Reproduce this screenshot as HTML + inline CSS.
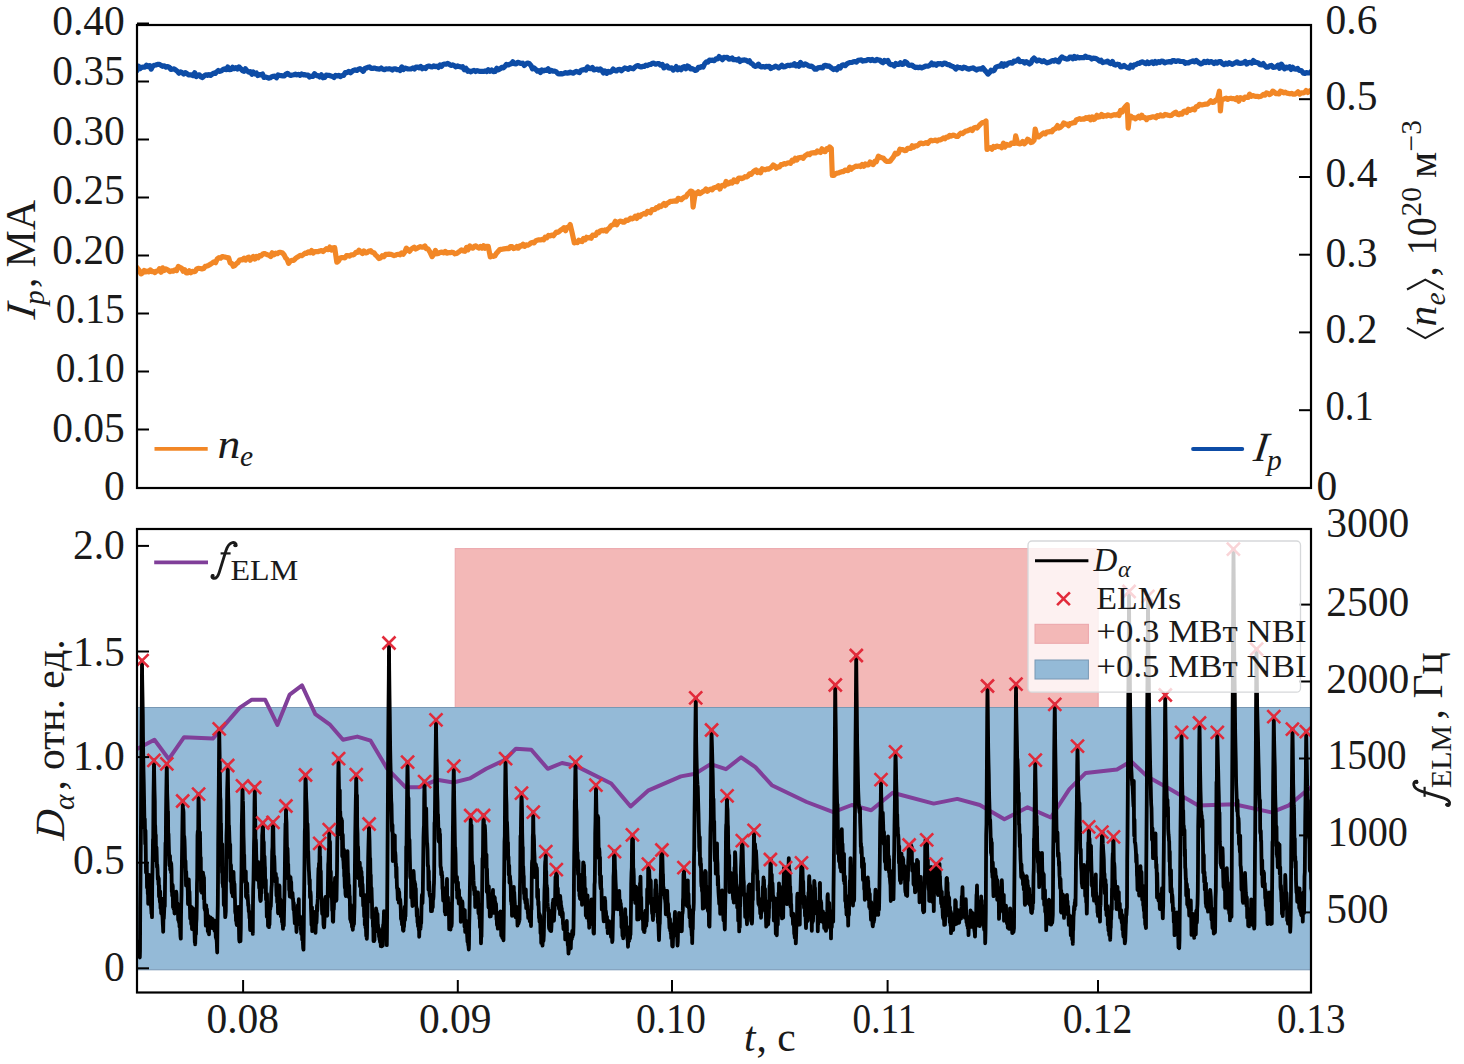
<!DOCTYPE html><html><head><meta charset="utf-8"><style>html,body{margin:0;padding:0;background:#fff;}svg{display:block;}</style></head><body><svg width="1464" height="1064" viewBox="0 0 1464 1064" font-family='"Liberation Serif", serif'>
<rect width="1464" height="1064" fill="#fff"/>
<defs><clipPath id="c1"><rect x="137" y="25" width="1174" height="463"/></clipPath><clipPath id="c2"><rect x="137" y="529" width="1174" height="463.5"/></clipPath></defs>
<g clip-path="url(#c1)">
<path d="M137.0 70.5 L138.6 66.1 L140.2 68.5 L141.7 67.3 L143.3 67.1 L144.9 67.1 L146.5 65.2 L148.0 66.5 L149.6 65.6 L151.2 69.1 L152.8 66.1 L154.3 65.3 L155.9 65.0 L157.5 64.4 L159.2 64.3 L160.9 65.2 L162.6 66.3 L164.3 65.9 L166.0 67.2 L167.7 66.5 L169.3 67.3 L170.9 69.4 L172.5 69.2 L174.1 68.9 L175.7 69.9 L177.3 71.2 L178.9 73.2 L180.5 71.9 L182.1 72.6 L183.7 74.0 L185.2 72.6 L186.8 73.5 L188.4 74.8 L190.0 74.9 L191.5 74.8 L193.1 75.6 L194.7 72.8 L196.3 76.5 L197.8 75.1 L199.4 74.8 L201.0 76.8 L202.6 77.5 L204.2 75.9 L205.7 74.8 L207.3 75.3 L208.9 74.6 L210.5 75.4 L212.0 74.2 L213.6 73.2 L215.2 73.5 L216.8 71.7 L218.3 70.5 L219.9 71.3 L221.5 70.8 L223.1 69.5 L224.7 68.8 L226.3 69.6 L227.8 67.0 L229.4 69.7 L231.0 69.4 L232.6 67.3 L234.2 68.7 L235.8 67.6 L237.4 69.0 L239.0 66.9 L240.6 68.5 L242.2 70.4 L243.8 71.3 L245.4 68.8 L247.0 70.8 L248.6 72.1 L250.2 71.7 L251.8 74.2 L253.3 72.1 L254.8 73.9 L256.4 73.0 L257.9 75.6 L259.4 74.7 L261.0 74.8 L262.5 74.0 L264.0 77.4 L265.6 77.0 L267.1 77.4 L268.7 78.1 L270.2 77.8 L271.8 76.7 L273.3 76.3 L274.9 76.1 L276.5 77.8 L278.1 75.0 L279.7 75.5 L281.2 75.6 L282.8 75.8 L284.4 75.9 L286.0 74.0 L287.5 73.3 L289.1 74.7 L290.7 75.5 L292.3 75.1 L293.8 74.7 L295.4 74.2 L297.0 74.8 L298.6 74.4 L300.1 75.4 L301.7 73.9 L303.3 74.8 L304.9 74.6 L306.5 75.2 L308.0 75.0 L309.6 77.1 L311.2 76.2 L312.9 76.5 L314.6 73.7 L316.3 75.6 L318.0 75.7 L319.7 77.0 L321.4 74.8 L323.0 77.8 L324.6 77.5 L326.2 75.2 L327.7 75.4 L329.3 75.4 L330.9 76.0 L332.5 76.4 L334.0 77.5 L335.6 75.3 L337.2 76.0 L338.8 75.3 L340.3 76.6 L341.9 75.5 L343.6 75.4 L345.3 72.5 L347.0 72.6 L348.7 71.4 L350.5 72.8 L352.2 71.3 L353.7 70.2 L355.3 69.9 L356.9 70.5 L358.5 69.2 L360.0 68.7 L361.6 69.8 L363.2 71.3 L364.8 68.6 L366.4 68.1 L367.9 67.3 L369.5 66.9 L371.1 68.4 L372.7 68.4 L374.4 68.0 L376.1 68.6 L377.8 68.8 L379.5 69.2 L381.2 68.0 L382.9 69.3 L384.5 69.7 L386.1 68.9 L387.6 69.0 L389.2 68.7 L390.8 69.0 L392.4 70.0 L393.9 68.8 L395.5 68.9 L397.1 69.7 L398.7 69.5 L400.2 70.4 L401.8 66.9 L403.4 69.5 L405.0 68.1 L406.5 68.5 L408.1 69.0 L409.7 69.0 L411.3 68.8 L412.9 67.9 L414.4 69.0 L416.0 67.2 L417.6 67.1 L419.2 67.8 L420.7 66.5 L422.3 68.7 L423.9 67.6 L425.5 68.5 L427.2 66.5 L428.8 66.1 L430.4 66.6 L432.1 67.0 L433.7 65.8 L435.4 66.6 L437.0 66.2 L438.5 67.4 L440.1 65.1 L441.6 66.4 L443.1 64.6 L444.7 64.1 L446.2 64.1 L447.8 63.4 L449.3 64.3 L450.9 65.4 L452.6 64.9 L454.2 65.6 L455.9 66.8 L457.5 65.9 L459.2 66.6 L460.9 67.1 L462.6 66.7 L464.3 69.7 L466.0 68.3 L467.7 71.3 L469.3 70.8 L470.9 71.9 L472.5 70.9 L474.0 70.3 L475.6 71.5 L477.2 70.7 L478.8 71.1 L480.3 71.4 L481.9 71.3 L483.5 71.4 L485.1 70.9 L486.7 71.5 L488.2 69.8 L489.9 71.3 L491.6 70.0 L493.4 71.7 L495.1 71.5 L496.8 68.3 L498.5 69.8 L500.1 68.8 L501.7 67.3 L503.3 67.9 L504.9 66.3 L506.4 64.4 L508.0 65.0 L509.6 64.3 L511.2 63.8 L512.8 61.8 L514.5 63.6 L516.1 63.9 L517.7 62.3 L519.4 62.8 L521.0 63.5 L522.7 63.2 L524.3 65.4 L525.9 64.1 L527.6 63.1 L529.2 63.5 L530.9 65.4 L532.5 68.9 L534.1 68.0 L535.8 69.5 L537.4 71.2 L538.9 70.6 L540.5 72.5 L542.0 69.9 L543.6 70.9 L545.1 70.2 L546.6 70.5 L548.2 68.8 L549.7 71.3 L551.3 70.3 L553.0 71.1 L554.6 71.0 L556.3 71.8 L557.9 73.7 L559.4 74.0 L561.0 73.6 L562.5 73.9 L564.0 73.4 L565.6 72.6 L567.1 73.2 L568.7 72.9 L570.2 72.1 L571.7 72.8 L573.3 73.2 L574.8 72.1 L576.3 71.4 L577.9 72.0 L579.5 72.6 L581.1 70.2 L582.7 69.9 L584.3 69.4 L585.9 70.1 L587.5 66.9 L589.1 68.4 L590.7 68.7 L592.3 67.4 L593.9 69.9 L595.5 69.5 L597.1 69.0 L598.7 70.1 L600.3 69.0 L601.8 70.3 L603.4 73.0 L605.0 71.0 L606.7 73.3 L608.3 71.4 L610.0 72.2 L611.6 71.2 L613.2 69.0 L614.9 70.4 L616.5 70.9 L618.1 69.6 L619.8 69.3 L621.4 70.7 L623.1 69.3 L624.8 67.9 L626.5 68.4 L628.3 69.3 L630.0 67.7 L631.7 68.5 L633.2 68.8 L634.8 67.2 L636.4 65.9 L638.0 65.5 L639.6 66.5 L641.1 67.0 L642.7 66.3 L644.3 66.3 L645.9 65.1 L647.4 65.6 L649.0 64.6 L650.6 64.5 L652.2 63.4 L653.9 63.2 L655.6 64.2 L657.3 63.6 L659.0 63.7 L660.7 65.2 L662.4 64.5 L663.9 67.9 L665.5 66.7 L667.0 65.9 L668.6 67.9 L670.1 68.1 L671.6 67.8 L673.2 70.1 L674.7 69.0 L676.3 66.6 L677.9 69.7 L679.5 68.1 L681.1 69.7 L682.7 67.4 L684.3 66.6 L685.9 68.7 L687.5 66.0 L689.0 66.8 L690.6 68.9 L692.1 68.6 L693.7 69.3 L695.2 70.4 L696.8 70.0 L698.4 67.4 L700.0 67.6 L701.6 66.5 L703.2 67.0 L704.8 63.5 L706.4 61.9 L707.9 62.2 L709.5 60.1 L711.1 60.5 L712.7 60.1 L714.3 60.7 L715.9 58.8 L717.5 59.0 L719.1 56.6 L720.7 57.8 L722.3 59.7 L723.9 57.4 L725.5 57.6 L727.2 57.3 L728.8 59.1 L730.4 58.9 L732.1 57.9 L733.7 59.7 L735.4 59.5 L737.0 60.1 L738.5 59.1 L740.1 61.4 L741.6 60.4 L743.1 60.1 L744.7 59.9 L746.2 60.3 L747.8 61.5 L749.3 60.7 L750.8 63.1 L752.4 63.8 L753.9 65.6 L755.4 66.3 L757.0 65.7 L758.5 64.2 L760.1 66.4 L761.6 67.0 L763.1 66.6 L764.7 67.1 L766.2 66.4 L767.7 66.6 L769.3 66.3 L770.8 68.5 L772.3 67.6 L773.9 67.2 L775.5 66.1 L777.1 66.8 L778.7 67.9 L780.3 66.7 L781.9 65.3 L783.4 66.9 L785.0 66.6 L786.6 65.8 L788.2 65.3 L789.8 65.6 L791.3 65.0 L792.8 65.2 L794.4 63.8 L795.9 65.8 L797.5 64.6 L799.0 66.2 L800.5 62.5 L802.1 64.9 L803.6 65.1 L805.1 63.9 L806.7 64.6 L808.3 65.7 L810.0 66.3 L811.6 66.2 L813.2 67.3 L814.9 69.2 L816.4 69.2 L817.9 67.9 L819.5 67.6 L821.0 67.4 L822.6 67.9 L824.1 65.8 L825.6 65.3 L827.2 66.3 L828.8 65.9 L830.4 67.1 L832.1 68.4 L833.7 69.5 L835.4 68.7 L837.0 69.7 L838.6 66.6 L840.3 67.9 L841.9 65.3 L843.6 64.8 L845.2 65.7 L846.8 64.0 L848.5 62.9 L850.1 62.5 L851.8 62.5 L853.3 61.8 L854.9 61.5 L856.5 62.2 L858.1 60.3 L859.7 60.2 L861.3 59.9 L862.9 61.1 L864.5 60.7 L866.1 60.6 L867.6 59.5 L869.2 59.5 L870.7 60.5 L872.2 59.5 L873.8 60.6 L875.3 60.6 L876.9 59.4 L878.4 60.1 L879.9 60.1 L881.5 61.9 L883.0 62.7 L884.5 60.4 L886.2 61.5 L887.8 60.5 L889.5 63.8 L891.1 64.6 L892.7 64.6 L894.3 66.0 L895.8 63.5 L897.3 64.4 L898.9 64.4 L900.4 62.8 L902.0 64.4 L903.5 64.2 L905.0 61.7 L906.7 62.5 L908.4 65.1 L910.2 65.3 L911.9 65.0 L913.6 66.6 L915.3 67.6 L916.9 67.2 L918.6 67.7 L920.2 67.0 L921.8 67.9 L923.5 67.2 L925.1 66.2 L926.8 66.2 L928.4 66.1 L930.0 65.2 L931.7 63.1 L933.2 64.8 L934.7 63.9 L936.3 65.2 L937.8 63.6 L939.4 63.9 L940.9 63.6 L942.4 64.6 L944.0 63.1 L945.7 63.4 L947.4 64.6 L949.1 64.6 L950.8 65.8 L952.5 66.4 L954.2 67.3 L955.8 69.0 L957.4 67.0 L959.0 67.6 L960.6 67.6 L962.2 68.6 L963.8 67.1 L965.4 67.7 L967.0 68.5 L968.6 69.2 L970.2 68.6 L971.7 68.2 L973.3 67.9 L974.9 69.1 L976.5 70.0 L978.1 69.0 L979.7 68.9 L981.3 69.1 L982.9 67.8 L984.6 70.1 L986.3 71.9 L988.0 74.1 L989.6 72.5 L991.1 70.2 L992.6 71.0 L994.2 70.3 L995.7 67.3 L997.2 66.6 L998.7 66.1 L1000.3 66.2 L1001.8 63.8 L1003.3 66.2 L1004.8 63.9 L1006.3 65.1 L1007.8 63.6 L1009.3 62.8 L1010.8 62.7 L1012.3 63.2 L1013.8 61.2 L1015.3 61.3 L1016.8 60.8 L1018.3 59.3 L1019.8 61.7 L1021.4 61.5 L1023.1 61.5 L1024.7 63.0 L1026.3 61.6 L1028.0 62.9 L1029.5 64.0 L1031.0 62.9 L1032.5 59.5 L1034.0 58.0 L1035.5 59.6 L1037.0 61.0 L1038.7 60.0 L1040.4 60.6 L1042.1 61.7 L1043.8 60.7 L1045.5 62.0 L1047.2 62.8 L1048.9 62.2 L1050.5 61.7 L1052.2 60.5 L1053.8 61.1 L1055.4 59.9 L1057.1 61.1 L1058.7 61.9 L1060.4 58.5 L1062.0 56.9 L1063.6 58.1 L1065.2 58.6 L1066.7 59.1 L1068.2 59.0 L1069.8 57.2 L1071.3 57.0 L1072.9 58.8 L1074.4 56.5 L1075.9 58.3 L1077.5 57.0 L1079.0 57.8 L1080.5 57.6 L1082.1 57.5 L1083.7 57.7 L1085.4 56.2 L1087.0 57.4 L1088.6 57.3 L1090.3 57.7 L1091.8 59.0 L1093.4 58.2 L1094.9 58.3 L1096.4 58.8 L1098.0 59.7 L1099.5 61.2 L1101.0 60.3 L1102.6 62.6 L1104.2 62.0 L1105.9 61.8 L1107.5 61.1 L1109.1 62.8 L1110.8 63.5 L1112.4 61.5 L1114.0 64.5 L1115.7 65.1 L1117.3 64.2 L1119.0 64.6 L1120.7 67.0 L1122.4 66.7 L1124.1 65.4 L1125.8 66.9 L1127.5 67.5 L1129.2 68.1 L1130.9 65.2 L1132.6 67.0 L1134.3 64.8 L1136.0 64.6 L1137.8 63.4 L1139.5 63.3 L1141.0 62.2 L1142.6 61.8 L1144.2 62.9 L1145.8 63.7 L1147.3 62.1 L1148.9 63.6 L1150.5 62.6 L1152.1 61.8 L1153.6 63.6 L1155.2 61.5 L1156.8 63.1 L1158.4 61.7 L1160.0 62.5 L1161.5 61.0 L1163.1 61.3 L1164.7 62.9 L1166.3 62.1 L1167.8 61.9 L1169.4 61.5 L1171.0 62.2 L1172.6 60.5 L1174.1 60.7 L1175.7 61.5 L1177.3 60.9 L1178.9 60.9 L1180.4 61.5 L1182.0 61.5 L1183.6 61.5 L1185.2 63.3 L1186.7 62.7 L1188.3 63.0 L1189.9 62.0 L1191.5 61.6 L1193.1 60.8 L1194.6 61.9 L1196.2 60.4 L1197.8 61.9 L1199.4 63.1 L1200.9 64.0 L1202.6 63.2 L1204.2 61.4 L1205.9 62.5 L1207.5 61.2 L1209.1 62.5 L1210.8 61.5 L1212.4 62.2 L1214.0 63.5 L1215.7 61.9 L1217.3 63.0 L1219.0 61.6 L1220.7 61.7 L1222.5 63.7 L1224.2 64.6 L1225.9 63.1 L1227.6 64.2 L1229.2 62.7 L1230.8 63.6 L1232.4 64.4 L1233.9 63.4 L1235.5 62.8 L1237.1 61.8 L1238.7 63.2 L1240.3 63.4 L1241.9 63.1 L1243.6 62.8 L1245.2 61.4 L1246.8 64.1 L1248.5 62.5 L1250.1 62.4 L1251.8 63.2 L1253.4 60.6 L1255.0 62.5 L1256.7 62.4 L1258.3 62.9 L1260.0 64.7 L1261.6 64.8 L1263.2 63.6 L1264.9 65.8 L1266.5 67.2 L1268.1 67.1 L1269.8 65.8 L1271.4 65.4 L1273.1 67.4 L1274.7 67.2 L1276.3 66.8 L1278.0 65.2 L1279.6 68.3 L1281.3 64.1 L1282.9 66.3 L1284.5 68.8 L1286.2 67.1 L1287.8 67.8 L1289.5 66.8 L1291.1 69.4 L1292.7 67.3 L1294.4 69.0 L1296.0 69.2 L1297.7 68.5 L1299.3 70.5 L1301.3 70.5 L1303.4 73.2 L1304.9 73.4 L1306.4 72.6 L1307.9 73.0 L1309.5 73.0 L1311.0 71.5" fill="none" stroke="#0d4ca6" stroke-width="5.2" stroke-linejoin="round" stroke-linecap="round"/>
<path d="M137.0 267.5 L139.0 270.0 L141.1 273.9 L142.6 272.8 L144.2 270.4 L145.7 271.9 L147.2 271.1 L148.8 271.8 L150.3 269.9 L151.9 271.6 L153.4 271.5 L154.9 272.5 L156.5 271.0 L158.0 271.0 L159.5 268.7 L161.1 272.2 L162.6 267.8 L164.2 270.5 L165.7 268.9 L167.7 269.8 L169.8 271.6 L171.5 270.8 L173.2 271.1 L174.9 269.8 L176.6 270.6 L178.3 266.5 L180.0 267.5 L181.6 268.1 L183.1 271.2 L184.6 269.7 L186.2 272.9 L187.7 273.0 L189.3 270.8 L190.8 272.7 L192.3 271.4 L193.9 271.7 L195.4 271.2 L196.9 268.7 L198.5 268.4 L200.2 268.5 L201.9 268.9 L203.6 268.5 L205.3 266.4 L207.0 266.0 L208.7 265.3 L210.4 264.2 L212.1 263.1 L213.8 261.9 L215.6 262.7 L217.3 258.8 L219.0 257.6 L220.6 258.2 L222.2 256.5 L223.9 256.9 L225.5 257.1 L227.2 257.7 L228.7 257.9 L230.2 262.9 L231.8 263.4 L233.3 266.3 L234.8 265.4 L236.4 263.7 L237.9 262.6 L239.5 260.1 L241.0 259.7 L242.5 259.8 L244.1 258.2 L245.6 260.1 L247.1 257.9 L248.7 257.2 L250.2 260.2 L251.8 257.8 L253.3 256.4 L254.9 259.1 L256.5 256.6 L258.1 257.7 L259.6 255.5 L261.2 255.8 L262.8 254.0 L264.4 253.5 L265.9 254.1 L267.5 254.7 L269.1 255.2 L270.7 256.6 L272.2 252.8 L274.0 254.8 L275.7 253.2 L277.4 253.7 L279.1 252.3 L280.8 252.3 L282.5 253.0 L284.0 254.7 L285.6 257.9 L287.1 259.3 L288.6 263.3 L290.3 261.2 L291.9 260.3 L293.6 260.4 L295.2 258.8 L296.8 257.4 L298.5 256.4 L300.1 255.4 L301.8 255.7 L303.4 254.5 L305.0 253.2 L306.7 253.4 L308.3 251.8 L310.0 252.7 L311.6 250.6 L313.2 253.1 L314.9 251.6 L316.5 251.5 L318.1 251.7 L319.8 250.9 L321.4 250.5 L323.1 251.5 L324.8 250.1 L326.4 248.7 L328.1 249.6 L329.8 247.1 L331.4 250.1 L333.1 247.9 L334.7 247.7 L336.8 262.2 L338.5 261.1 L340.2 258.0 L341.9 257.5 L343.5 257.6 L345.0 257.8 L346.5 255.6 L348.1 255.5 L349.6 256.2 L351.1 254.8 L352.7 255.0 L354.2 254.4 L355.9 252.4 L357.5 252.3 L359.1 250.2 L360.8 252.3 L362.4 253.6 L364.0 250.9 L365.7 252.9 L367.3 252.4 L369.0 251.0 L370.6 250.7 L372.2 252.3 L373.9 252.7 L375.5 254.8 L377.2 256.4 L378.8 258.5 L380.5 258.0 L382.2 255.8 L383.9 256.7 L385.6 254.4 L387.3 254.3 L389.0 254.2 L390.6 254.3 L392.1 254.7 L393.7 255.6 L395.2 255.3 L396.8 254.5 L398.4 254.3 L400.0 254.8 L401.6 253.0 L403.2 254.3 L404.8 252.0 L406.4 248.1 L407.9 250.0 L409.5 251.4 L411.1 249.2 L412.6 248.3 L414.2 247.3 L415.7 249.0 L417.2 248.2 L418.8 247.3 L420.3 246.6 L421.8 247.1 L423.4 247.2 L424.9 245.9 L426.4 248.7 L428.0 248.9 L430.0 252.2 L432.1 256.6 L433.7 254.7 L435.4 250.5 L437.0 253.8 L438.6 253.4 L440.3 252.3 L441.9 252.1 L443.6 252.8 L445.2 251.4 L446.8 253.1 L448.5 252.7 L450.1 252.7 L451.8 252.2 L453.4 252.6 L455.0 253.8 L456.7 253.5 L458.3 252.2 L460.0 251.1 L461.6 249.8 L463.2 250.9 L464.9 251.3 L466.5 247.5 L468.1 249.8 L469.8 245.9 L471.3 247.6 L472.9 248.2 L474.4 246.2 L475.9 245.9 L477.5 247.4 L479.0 248.0 L480.5 246.4 L482.1 248.1 L483.6 245.8 L485.2 248.2 L486.7 246.4 L488.2 246.3 L490.3 256.9 L491.8 255.7 L493.4 256.4 L494.9 255.8 L496.4 253.3 L498.0 251.7 L499.5 249.8 L501.0 249.3 L502.6 249.1 L504.2 248.8 L505.7 248.6 L507.3 248.4 L508.9 248.7 L510.5 246.6 L512.0 246.7 L513.6 248.6 L515.2 248.1 L516.8 246.5 L518.3 248.1 L519.9 245.9 L521.5 246.1 L523.1 244.2 L524.6 246.3 L526.2 244.8 L527.8 245.2 L529.4 244.3 L530.9 243.0 L532.5 242.4 L534.1 242.9 L535.7 240.9 L537.3 240.2 L538.8 239.8 L540.4 239.9 L542.0 239.4 L543.6 239.8 L545.2 237.2 L546.8 237.9 L548.5 235.4 L550.1 236.0 L551.8 235.0 L553.3 235.8 L554.8 233.9 L556.4 232.1 L557.9 232.3 L559.4 231.3 L561.0 229.9 L562.5 229.2 L564.0 227.7 L565.6 230.7 L567.1 227.3 L568.7 227.4 L570.2 224.5 L572.2 233.2 L574.3 242.9 L575.8 242.3 L577.4 242.6 L578.9 240.2 L580.4 241.2 L582.0 241.6 L583.5 238.5 L585.1 239.8 L586.6 237.3 L588.1 238.0 L589.7 237.4 L591.2 238.2 L592.7 235.2 L594.2 235.2 L595.7 235.3 L597.2 232.2 L598.7 232.6 L600.3 230.9 L601.8 230.3 L603.3 230.8 L604.8 230.0 L606.3 231.1 L607.8 229.1 L609.3 228.1 L610.8 225.9 L612.3 224.9 L613.8 224.5 L615.3 221.3 L616.8 224.8 L618.4 222.0 L619.9 221.2 L621.4 221.3 L623.0 222.2 L624.5 222.1 L626.0 220.0 L627.6 220.4 L629.1 219.5 L630.6 218.1 L632.2 218.8 L633.7 218.2 L635.3 216.2 L636.8 218.4 L638.3 215.3 L639.9 216.6 L641.4 214.6 L642.9 214.1 L644.4 213.4 L645.9 214.1 L647.4 211.4 L648.9 211.7 L650.4 212.7 L651.9 209.7 L653.4 209.6 L654.9 209.5 L656.4 207.5 L657.9 207.8 L659.4 205.9 L660.9 206.6 L662.4 205.2 L664.0 203.6 L665.6 205.4 L667.1 203.3 L668.7 202.6 L670.3 201.4 L671.9 201.3 L673.4 201.1 L675.0 200.9 L676.6 201.2 L678.2 198.3 L679.7 198.7 L681.3 199.7 L682.9 198.1 L684.4 197.0 L686.0 196.8 L687.5 194.2 L689.0 192.9 L690.6 191.1 L692.1 191.5 L693.1 207.2 L695.2 193.1 L696.7 193.9 L698.3 191.8 L699.8 193.6 L701.3 192.8 L702.9 191.5 L704.4 190.9 L706.0 189.0 L707.5 191.2 L709.0 189.9 L710.6 189.2 L712.1 189.8 L713.6 188.0 L715.2 187.6 L716.8 187.0 L718.3 185.8 L719.9 189.0 L721.4 185.9 L723.0 185.2 L724.5 186.0 L726.1 181.4 L727.7 184.0 L729.2 183.5 L730.8 182.0 L732.3 182.9 L733.9 179.9 L735.4 181.4 L737.0 181.8 L738.6 178.0 L740.2 178.0 L741.7 178.6 L743.3 178.0 L744.9 176.7 L746.5 177.0 L748.0 176.1 L749.6 173.8 L751.2 174.3 L752.8 172.4 L754.3 170.9 L755.9 169.9 L757.5 172.6 L759.1 171.0 L760.6 172.7 L762.2 168.8 L763.8 169.5 L765.3 169.8 L766.9 168.9 L768.5 169.1 L770.0 168.3 L771.6 167.1 L773.2 165.0 L774.7 166.0 L776.3 168.2 L777.9 166.8 L779.4 167.0 L781.0 164.7 L782.6 164.6 L784.1 163.5 L785.7 164.1 L787.3 163.1 L788.9 162.8 L790.5 163.4 L792.1 160.2 L793.7 161.1 L795.3 158.2 L796.9 160.1 L798.5 157.8 L800.1 157.7 L801.6 157.3 L803.2 158.3 L804.8 156.0 L806.4 155.0 L807.9 153.8 L809.5 154.7 L811.1 153.0 L812.7 152.8 L814.2 152.7 L815.8 152.9 L817.4 150.9 L819.0 151.8 L820.5 152.5 L822.0 148.8 L823.6 151.3 L825.1 151.7 L826.7 148.6 L828.2 149.4 L829.7 147.0 L831.3 148.4 L832.3 175.4 L833.9 175.4 L835.5 173.7 L837.0 173.2 L838.6 173.0 L840.2 172.2 L841.8 171.7 L843.4 171.6 L845.0 170.1 L846.5 170.5 L848.1 170.6 L849.7 167.2 L851.3 169.2 L852.8 167.8 L854.4 167.0 L856.0 166.2 L857.5 166.3 L859.1 165.9 L860.7 166.5 L862.2 164.4 L863.8 166.2 L865.4 163.9 L866.9 164.9 L868.5 164.8 L870.1 162.0 L871.6 163.8 L873.2 164.5 L874.8 161.4 L876.3 161.9 L878.4 156.1 L880.1 157.2 L881.8 157.8 L883.5 158.3 L885.2 160.4 L886.9 161.4 L888.6 161.4 L890.3 161.1 L891.9 158.8 L893.6 156.6 L895.2 153.3 L896.8 154.1 L898.4 153.0 L899.9 149.1 L901.4 149.6 L903.0 149.7 L904.5 150.6 L906.1 150.4 L907.6 148.4 L909.1 148.4 L910.7 148.3 L912.2 145.8 L913.7 147.2 L915.3 145.8 L916.8 145.8 L918.4 145.0 L919.9 143.4 L921.4 143.1 L923.0 143.7 L924.6 143.3 L926.1 142.5 L927.7 143.4 L929.3 141.6 L930.8 140.3 L932.4 140.8 L934.0 140.5 L935.5 140.1 L937.1 141.0 L938.7 139.9 L940.2 140.0 L941.8 139.2 L943.4 138.0 L944.9 138.8 L946.5 137.0 L948.1 137.1 L949.7 135.4 L951.3 136.1 L952.8 135.2 L954.4 135.4 L956.0 136.4 L957.6 136.5 L959.2 134.7 L960.8 133.2 L962.4 133.6 L964.0 132.4 L965.7 131.0 L967.3 130.9 L969.0 130.1 L970.6 129.1 L972.2 130.5 L973.9 128.0 L975.5 127.4 L977.2 128.0 L978.8 126.0 L980.6 124.0 L982.4 122.7 L984.2 122.5 L986.0 120.9 L987.0 149.5 L988.6 148.4 L990.3 147.7 L991.9 149.2 L993.6 146.5 L995.2 147.4 L996.8 146.0 L998.5 146.6 L1000.1 146.6 L1001.8 147.7 L1003.4 143.3 L1005.0 147.0 L1006.6 144.4 L1008.2 145.1 L1009.8 145.2 L1011.4 143.2 L1013.1 143.4 L1014.7 143.5 L1015.7 135.8 L1017.7 143.3 L1019.4 143.9 L1021.0 143.4 L1022.7 141.4 L1024.3 143.8 L1025.9 142.3 L1027.6 139.2 L1029.2 140.4 L1030.9 142.5 L1032.5 142.0 L1034.1 140.3 L1035.2 129.1 L1037.0 136.4 L1038.6 137.0 L1040.3 135.6 L1041.9 134.1 L1043.6 133.0 L1045.2 133.9 L1046.8 132.1 L1048.5 131.9 L1050.1 131.4 L1051.8 131.8 L1053.4 129.7 L1055.4 128.7 L1057.5 125.6 L1059.1 128.0 L1060.6 127.2 L1062.2 125.7 L1063.8 122.9 L1065.4 124.1 L1066.9 124.2 L1068.5 125.7 L1070.1 123.6 L1071.7 123.2 L1073.3 122.7 L1074.8 122.7 L1076.4 119.7 L1078.0 119.4 L1079.6 118.7 L1081.1 119.3 L1082.7 118.9 L1084.3 119.1 L1085.9 117.6 L1087.4 118.4 L1089.0 117.2 L1090.6 119.8 L1092.2 116.9 L1093.7 119.6 L1095.3 118.4 L1096.9 115.3 L1098.5 117.1 L1100.1 116.7 L1101.6 114.4 L1103.2 116.5 L1104.8 115.7 L1106.4 116.1 L1107.9 114.8 L1109.5 115.5 L1111.1 115.9 L1112.7 115.2 L1114.2 114.7 L1115.8 115.1 L1117.4 114.2 L1119.0 115.5 L1120.6 110.3 L1122.2 112.1 L1123.9 108.4 L1125.5 106.6 L1127.2 104.7 L1128.2 128.2 L1129.2 119.4 L1130.8 116.1 L1132.4 117.8 L1133.9 117.7 L1135.5 118.8 L1137.1 117.5 L1138.7 116.2 L1140.2 118.0 L1141.8 115.3 L1143.4 117.7 L1145.0 117.5 L1146.6 119.6 L1148.1 117.8 L1149.7 117.7 L1151.2 117.2 L1152.8 116.8 L1154.3 116.8 L1155.9 117.7 L1157.4 115.6 L1158.9 116.4 L1160.5 114.9 L1162.0 116.0 L1163.5 116.0 L1165.1 114.4 L1166.6 114.8 L1168.1 115.2 L1169.7 115.6 L1171.2 115.5 L1172.8 114.2 L1174.3 113.1 L1175.8 112.2 L1177.4 114.3 L1178.9 114.7 L1180.4 113.4 L1182.0 114.1 L1183.6 111.5 L1185.2 111.0 L1186.7 112.4 L1188.3 109.3 L1189.9 110.3 L1191.5 109.6 L1193.1 108.8 L1194.6 109.8 L1196.2 106.6 L1197.8 106.5 L1199.4 104.3 L1200.9 104.8 L1202.6 104.8 L1204.2 104.4 L1205.9 104.1 L1207.5 104.1 L1209.1 102.6 L1210.8 100.8 L1212.4 102.4 L1214.0 102.2 L1215.7 100.1 L1217.3 99.9 L1219.4 91.2 L1220.4 111.0 L1221.4 99.8 L1223.0 99.4 L1224.6 98.8 L1226.2 98.2 L1227.7 99.3 L1229.3 98.5 L1230.9 98.2 L1232.5 98.7 L1234.0 98.6 L1235.6 99.6 L1237.2 97.7 L1238.8 101.2 L1240.3 97.7 L1241.9 98.3 L1243.5 99.3 L1245.0 97.2 L1246.5 97.3 L1248.1 97.5 L1249.6 94.2 L1251.1 96.3 L1252.7 95.6 L1254.2 96.0 L1255.8 96.4 L1257.3 96.3 L1258.8 96.8 L1260.4 96.5 L1261.9 95.7 L1263.4 94.3 L1265.0 95.1 L1266.5 92.8 L1268.0 93.4 L1269.6 94.6 L1271.1 93.6 L1272.7 91.1 L1274.2 92.0 L1275.8 93.6 L1277.4 93.4 L1279.0 93.9 L1280.5 91.2 L1282.1 91.7 L1283.7 92.8 L1285.3 92.2 L1286.8 93.2 L1288.4 93.4 L1290.0 93.8 L1291.6 93.4 L1293.1 94.1 L1294.8 94.2 L1296.4 93.4 L1298.0 91.8 L1299.6 94.1 L1301.3 92.9 L1302.9 92.9 L1304.5 92.5 L1306.1 90.5 L1307.7 92.5 L1309.4 91.1 L1311.0 90.3" fill="none" stroke="#f28726" stroke-width="5.2" stroke-linejoin="round" stroke-linecap="round"/>
</g>
<rect x="137" y="25" width="1174" height="463" fill="none" stroke="#000" stroke-width="2.2"/>
<line x1="137" y1="429.5" x2="149" y2="429.5" stroke="#000" stroke-width="2"/>
<line x1="137" y1="371.5" x2="149" y2="371.5" stroke="#000" stroke-width="2"/>
<line x1="137" y1="313.5" x2="149" y2="313.5" stroke="#000" stroke-width="2"/>
<line x1="137" y1="255.5" x2="149" y2="255.5" stroke="#000" stroke-width="2"/>
<line x1="137" y1="197.5" x2="149" y2="197.5" stroke="#000" stroke-width="2"/>
<line x1="137" y1="139.5" x2="149" y2="139.5" stroke="#000" stroke-width="2"/>
<line x1="137" y1="81.5" x2="149" y2="81.5" stroke="#000" stroke-width="2"/>
<line x1="137" y1="23.5" x2="149" y2="23.5" stroke="#000" stroke-width="2"/>
<text x="124.8" y="499.8" font-size="41.5" text-anchor="end" fill="#1a1a1a">0</text>
<text x="124.8" y="441.7" font-size="41.5" text-anchor="end" fill="#1a1a1a">0.05</text>
<text transform="translate(124.8,381.7) scale(0.951,1)" font-size="41.5" text-anchor="end" fill="#1a1a1a">0.10</text>
<text transform="translate(124.8,323.0) scale(0.951,1)" font-size="41.5" text-anchor="end" fill="#1a1a1a">0.15</text>
<text x="124.8" y="263.6" font-size="41.5" text-anchor="end" fill="#1a1a1a">0.20</text>
<text x="124.8" y="203.7" font-size="41.5" text-anchor="end" fill="#1a1a1a">0.25</text>
<text x="124.8" y="144.6" font-size="41.5" text-anchor="end" fill="#1a1a1a">0.30</text>
<text x="124.8" y="84.7" font-size="41.5" text-anchor="end" fill="#1a1a1a">0.35</text>
<text x="124.8" y="34.6" font-size="41.5" text-anchor="end" fill="#1a1a1a">0.40</text>
<line x1="1299" y1="410.2" x2="1311" y2="410.2" stroke="#000" stroke-width="2"/>
<line x1="1299" y1="332.4" x2="1311" y2="332.4" stroke="#000" stroke-width="2"/>
<line x1="1299" y1="254.7" x2="1311" y2="254.7" stroke="#000" stroke-width="2"/>
<line x1="1299" y1="177.0" x2="1311" y2="177.0" stroke="#000" stroke-width="2"/>
<line x1="1299" y1="99.2" x2="1311" y2="99.2" stroke="#000" stroke-width="2"/>
<text transform="translate(1325.5,419.7) scale(0.929,1)" font-size="41.5" fill="#1a1a1a">0.1</text>
<text x="1325.5" y="343.4" font-size="41.5" fill="#1a1a1a">0.2</text>
<text x="1325.5" y="266.6" font-size="41.5" fill="#1a1a1a">0.3</text>
<text x="1325.5" y="186.6" font-size="41.5" fill="#1a1a1a">0.4</text>
<text x="1325.5" y="109.8" font-size="41.5" fill="#1a1a1a">0.5</text>
<text x="1325.5" y="33.8" font-size="41.5" fill="#1a1a1a">0.6</text>
<text x="1316.5" y="499.7" font-size="41.5" fill="#1a1a1a">0</text>
<line x1="154.5" y1="448.8" x2="207.7" y2="448.8" stroke="#f28726" stroke-width="3.8"/>
<text transform="translate(217.5,457.9) scale(1.100,1)" font-size="41.5" font-style="italic" fill="#1a1a1a">n</text>
<text x="240.0" y="466.4" font-size="29.5" font-style="italic" fill="#1a1a1a">e</text>
<line x1="1193" y1="449" x2="1242.3" y2="449" stroke="#0d4ca6" stroke-width="3.8" stroke-linecap="round"/>
<text transform="translate(1252.5,460.5) skewX(-8)" font-size="41.5" font-style="italic" fill="#1a1a1a">I</text>
<text x="1267.0" y="470.0" font-size="29.5" font-style="italic" fill="#1a1a1a">p</text>
<text transform="translate(34.9,319.8) rotate(-90) skewX(-8)" font-size="42" font-style="italic" fill="#1a1a1a">I</text>
<text transform="translate(44.0,305.1) rotate(-90)" font-size="29.5" font-style="italic" fill="#1a1a1a">p</text>
<text transform="translate(34.9,288.0) rotate(-90)" font-size="42" fill="#1a1a1a">,</text>
<text transform="translate(34.9,267.5) rotate(-90)" font-size="42" fill="#1a1a1a">MA</text>
<path d="M1407 327.8 L1425.3 338.1 L1443.7 327.8" fill="none" stroke="#1a1a1a" stroke-width="2"/>
<path d="M1407 289.5 L1425.3 279.7 L1443.7 289.5" fill="none" stroke="#1a1a1a" stroke-width="2"/>
<text transform="translate(1436.2,326.5) rotate(-90)" font-size="41.5" font-style="italic" fill="#1a1a1a">n</text>
<text transform="translate(1444.8,305.5) rotate(-90)" font-size="29.5" font-style="italic" fill="#1a1a1a">e</text>
<text transform="translate(1436.2,276.5) rotate(-90)" font-size="41.5" fill="#1a1a1a">,</text>
<text transform="translate(1436.2,255.3) rotate(-90) scale(0.914,1)" font-size="41.5" fill="#1a1a1a">10</text>
<text transform="translate(1421.2,216.5) rotate(-90)" font-size="29.5" fill="#1a1a1a">20</text>
<text transform="translate(1436.2,178.0) rotate(-90)" font-size="41.5" fill="#1a1a1a">м</text>
<text transform="translate(1421.2,151.5) rotate(-90)" font-size="29.5" fill="#1a1a1a">−3</text>
<g clip-path="url(#c2)">
<rect x="455.2" y="548.6" width="643" height="159" fill="#f3b8b7" stroke="#eba5aa" stroke-width="1"/>
<rect x="130" y="707.5" width="1190" height="262.3" fill="#94bad7" stroke="#7898b4" stroke-width="1"/>
<path d="M137.0 748.9 L154.4 739.7 L168.8 759.1 L184.1 737.2 L212.8 738.6 L239.5 707.9 L251.8 699.7 L265.1 699.7 L277.4 724.9 L289.7 694.6 L302.0 685.4 L315.3 714.1 L329.6 724.3 L343.0 739.7 L357.3 736.6 L370.6 740.7 L387.0 768.4 L405.4 787.2 L419.8 787.2 L437.0 779.8 L453.4 782.5 L469.8 778.4 L486.2 768.8 L504.6 760.0 L515.9 748.7 L531.3 749.7 L547.7 768.8 L562.0 763.0 L576.3 766.1 L611.2 783.5 L630.6 806.5 L648.0 790.7 L680.9 776.4 L695.2 773.7 L710.6 764.1 L725.9 769.2 L741.1 757.3 L755.4 767.1 L771.8 785.2 L806.7 802.0 L833.3 812.2 L851.8 805.0 L871.2 810.2 L892.7 792.7 L933.7 803.6 L957.3 798.9 L979.8 805.0 L1004.4 819.3 L1027.6 807.3 L1050.8 817.5 L1069.4 789.2 L1085.7 772.9 L1117.0 769.4 L1131.0 761.3 L1147.2 776.4 L1168.1 788.0 L1198.3 805.4 L1234.3 804.2 L1271.5 812.4 L1288.9 805.4 L1311.0 787.0" fill="none" stroke="#803f99" stroke-width="4" stroke-linejoin="round"/>
<path d="M133.0 946.1 L133.2 954.2 L133.5 953.4 L133.8 952.6 L134.0 951.7 L134.2 955.4 L134.5 952.6 L134.8 956.1 L135.0 956.0 L135.2 950.9 L135.5 947.8 L135.8 947.0 L136.0 940.6 L136.2 944.1 L136.5 947.6 L136.8 941.1 L137.0 946.2 L137.2 947.4 L137.5 946.7 L137.8 952.5 L138.0 953.3 L138.2 946.7 L138.5 949.7 L138.8 953.7 L139.0 948.0 L139.2 949.5 L139.5 951.4 L139.8 957.5 L140.0 951.0 L140.2 908.4 L140.5 877.9 L140.8 842.6 L141.0 817.2 L141.2 778.2 L141.5 740.0 L141.8 699.0 L142.0 660.6 L142.2 680.0 L142.5 696.6 L142.8 715.2 L143.0 737.1 L143.2 752.8 L143.5 771.3 L143.8 784.2 L144.0 795.8 L144.2 807.5 L144.5 828.3 L144.8 818.8 L145.0 830.9 L145.2 844.0 L145.5 830.4 L145.8 853.7 L146.0 872.5 L146.2 867.2 L146.5 871.3 L146.8 864.0 L147.0 887.5 L147.2 880.0 L147.5 879.8 L147.8 894.0 L148.0 886.8 L148.2 903.8 L148.5 887.9 L148.8 902.9 L149.0 890.9 L149.2 874.8 L149.5 889.7 L149.8 893.3 L150.0 895.0 L150.2 887.1 L150.5 898.4 L150.8 897.1 L151.0 906.2 L151.2 907.9 L151.5 913.6 L151.8 910.4 L152.0 917.2 L152.2 885.7 L152.5 869.3 L152.8 854.3 L153.0 839.0 L153.2 841.9 L153.5 796.8 L153.8 777.6 L154.0 760.4 L154.2 775.3 L154.5 790.7 L154.8 801.2 L155.0 824.5 L155.2 826.0 L155.5 837.7 L155.8 835.0 L156.0 860.5 L156.2 855.9 L156.5 847.3 L156.8 858.1 L157.0 867.3 L157.2 864.5 L157.5 868.3 L157.8 879.3 L158.0 875.9 L158.2 877.4 L158.5 884.7 L158.8 878.5 L159.0 896.6 L159.2 885.3 L159.5 894.8 L159.8 900.5 L160.0 902.3 L160.2 891.5 L160.5 908.3 L160.8 908.3 L161.0 908.7 L161.2 913.4 L161.5 906.8 L161.8 898.7 L162.0 907.4 L162.2 914.3 L162.5 917.0 L162.8 924.1 L163.0 926.9 L163.2 931.8 L163.5 912.1 L163.8 918.6 L164.0 915.0 L164.2 910.2 L164.5 902.6 L164.8 906.4 L165.0 886.0 L165.2 867.9 L165.5 842.7 L165.8 846.7 L166.0 814.9 L166.2 800.1 L166.5 781.2 L166.8 763.8 L167.0 779.6 L167.2 793.3 L167.5 801.7 L167.8 812.8 L168.0 811.2 L168.2 833.7 L168.5 833.8 L168.8 845.2 L169.0 851.8 L169.2 856.4 L169.5 865.5 L169.8 859.7 L170.0 855.9 L170.2 869.6 L170.5 868.2 L170.8 862.3 L171.0 872.5 L171.2 863.3 L171.5 869.1 L171.8 891.8 L172.0 886.8 L172.2 895.8 L172.5 884.7 L172.8 886.3 L173.0 907.2 L173.2 903.0 L173.5 905.9 L173.8 909.4 L174.0 907.3 L174.2 907.9 L174.5 913.5 L174.8 911.2 L175.0 909.8 L175.2 908.6 L175.5 909.5 L175.8 906.1 L176.0 892.6 L176.2 891.6 L176.5 894.2 L176.8 905.9 L177.0 909.5 L177.2 907.3 L177.5 903.5 L177.8 911.2 L178.0 913.4 L178.2 920.0 L178.5 913.2 L178.8 912.7 L179.0 922.4 L179.2 910.9 L179.5 926.6 L179.8 920.2 L180.0 927.6 L180.2 929.5 L180.5 936.6 L180.8 938.7 L181.0 917.6 L181.2 905.6 L181.5 894.7 L181.8 869.5 L182.0 855.3 L182.2 841.9 L182.5 818.6 L182.8 801.0 L183.0 812.3 L183.2 808.8 L183.5 812.1 L183.8 833.6 L184.0 846.1 L184.2 836.1 L184.5 839.8 L184.8 848.7 L185.0 860.4 L185.2 866.3 L185.5 860.9 L185.8 872.7 L186.0 885.5 L186.2 871.6 L186.5 879.7 L186.8 879.8 L187.0 880.1 L187.2 884.2 L187.5 885.0 L187.8 891.1 L188.0 904.0 L188.2 887.0 L188.5 891.1 L188.8 879.3 L189.0 887.2 L189.2 895.3 L189.5 891.6 L189.8 904.6 L190.0 909.9 L190.2 918.5 L190.5 916.5 L190.8 917.1 L191.0 914.0 L191.2 924.0 L191.5 917.8 L191.8 907.2 L192.0 929.1 L192.2 918.8 L192.5 919.8 L192.8 913.2 L193.0 908.4 L193.2 912.1 L193.5 920.8 L193.8 927.9 L194.0 926.5 L194.2 929.6 L194.5 932.0 L194.8 942.3 L195.0 934.3 L195.2 944.4 L195.5 932.8 L195.8 931.7 L196.0 934.1 L196.2 923.3 L196.5 919.1 L196.8 903.8 L197.0 883.4 L197.2 877.6 L197.5 835.7 L197.8 831.0 L198.0 835.5 L198.2 834.5 L198.5 794.2 L198.8 804.5 L199.0 816.3 L199.2 834.8 L199.5 846.6 L199.8 861.1 L200.0 832.3 L200.2 847.4 L200.5 871.8 L200.8 857.6 L201.0 891.2 L201.2 878.8 L201.5 883.6 L201.8 892.6 L202.0 889.3 L202.2 892.9 L202.5 883.5 L202.8 873.8 L203.0 872.6 L203.2 877.4 L203.5 875.5 L203.8 898.9 L204.0 877.5 L204.2 896.7 L204.5 908.5 L204.8 904.9 L205.0 910.5 L205.2 910.0 L205.5 909.4 L205.8 925.6 L206.0 906.4 L206.2 905.4 L206.5 922.4 L206.8 908.8 L207.0 910.2 L207.2 915.0 L207.5 914.6 L207.8 931.2 L208.0 923.5 L208.2 932.1 L208.5 916.2 L208.8 932.2 L209.0 934.4 L209.2 921.3 L209.5 922.3 L209.8 928.0 L210.0 928.2 L210.2 924.8 L210.5 917.4 L210.8 927.8 L211.0 925.8 L211.2 922.8 L211.5 918.6 L211.8 918.6 L212.0 925.8 L212.2 918.7 L212.5 928.2 L212.8 926.7 L213.0 928.1 L213.2 927.2 L213.5 921.2 L213.8 920.2 L214.0 923.0 L214.2 920.3 L214.5 930.7 L214.8 923.5 L215.0 928.9 L215.2 929.6 L215.5 930.5 L215.8 937.4 L216.0 936.8 L216.2 938.7 L216.5 938.0 L216.8 942.3 L217.0 948.1 L217.2 952.5 L217.5 921.1 L217.8 905.0 L218.0 880.5 L218.2 845.2 L218.5 813.5 L218.8 786.1 L219.0 758.9 L219.2 728.9 L219.5 747.7 L219.8 764.9 L220.0 781.4 L220.2 797.1 L220.5 799.9 L220.8 827.6 L221.0 823.1 L221.2 842.1 L221.5 846.6 L221.8 852.0 L222.0 872.6 L222.2 844.1 L222.5 883.3 L222.8 875.7 L223.0 886.4 L223.2 887.3 L223.5 883.0 L223.8 905.0 L224.0 898.9 L224.2 898.5 L224.5 901.8 L224.8 902.7 L225.0 910.8 L225.2 917.1 L225.5 915.4 L225.8 911.0 L226.0 885.2 L226.2 867.2 L226.5 835.9 L226.8 827.0 L227.0 807.4 L227.2 790.0 L227.5 778.5 L227.8 765.5 L228.0 782.6 L228.2 796.6 L228.5 806.8 L228.8 831.8 L229.0 825.5 L229.2 831.4 L229.5 840.8 L229.8 846.9 L230.0 858.2 L230.2 844.4 L230.5 881.1 L230.8 876.9 L231.0 865.0 L231.2 875.9 L231.5 888.0 L231.8 893.0 L232.0 890.9 L232.2 875.0 L232.5 890.1 L232.8 896.3 L233.0 885.6 L233.2 890.8 L233.5 871.8 L233.8 881.7 L234.0 881.2 L234.2 891.6 L234.5 883.8 L234.8 895.8 L235.0 900.0 L235.2 911.7 L235.5 913.4 L235.8 911.7 L236.0 920.6 L236.2 907.7 L236.5 923.0 L236.8 925.1 L237.0 911.9 L237.2 917.4 L237.5 909.6 L237.8 910.9 L238.0 914.3 L238.2 906.9 L238.5 918.6 L238.8 919.0 L239.0 930.2 L239.2 939.4 L239.5 941.5 L239.8 939.7 L240.0 941.1 L240.2 939.2 L240.5 941.1 L240.8 928.6 L241.0 903.1 L241.2 890.9 L241.5 869.5 L241.8 826.0 L242.0 815.7 L242.2 807.5 L242.5 785.8 L242.8 800.4 L243.0 802.2 L243.2 812.0 L243.5 835.5 L243.8 846.5 L244.0 860.1 L244.2 854.9 L244.5 875.1 L244.8 874.2 L245.0 871.9 L245.2 882.2 L245.5 879.4 L245.8 871.5 L246.0 896.5 L246.2 881.2 L246.5 896.2 L246.8 898.0 L247.0 890.6 L247.2 883.5 L247.5 893.9 L247.8 897.3 L248.0 901.7 L248.2 905.7 L248.5 904.7 L248.8 911.6 L249.0 911.1 L249.2 911.3 L249.5 918.2 L249.8 913.3 L250.0 927.4 L250.2 930.1 L250.5 915.6 L250.8 919.5 L251.0 925.6 L251.2 922.7 L251.5 923.9 L251.8 927.2 L252.0 918.8 L252.2 920.4 L252.5 918.3 L252.8 933.9 L253.0 903.0 L253.2 889.4 L253.5 879.8 L253.8 859.7 L254.0 844.2 L254.2 836.1 L254.5 804.7 L254.8 787.5 L255.0 801.0 L255.2 816.6 L255.5 847.7 L255.8 839.6 L256.0 843.2 L256.2 854.1 L256.5 863.2 L256.8 877.1 L257.0 867.5 L257.2 879.6 L257.5 866.0 L257.8 873.5 L258.0 875.3 L258.2 862.0 L258.5 878.8 L258.8 872.5 L259.0 883.7 L259.2 888.2 L259.5 885.8 L259.8 890.8 L260.0 897.6 L260.2 899.3 L260.5 901.0 L260.8 900.4 L261.0 896.0 L261.2 889.3 L261.5 893.3 L261.8 865.3 L262.0 858.4 L262.2 835.5 L262.5 831.5 L262.8 823.0 L263.0 823.0 L263.2 837.9 L263.5 847.7 L263.8 841.9 L264.0 858.0 L264.2 862.3 L264.5 856.4 L264.8 866.1 L265.0 867.7 L265.2 887.5 L265.5 883.9 L265.8 879.9 L266.0 899.4 L266.2 895.4 L266.5 895.1 L266.8 916.7 L267.0 893.8 L267.2 910.7 L267.5 911.9 L267.8 906.0 L268.0 925.9 L268.2 915.1 L268.5 921.1 L268.8 920.7 L269.0 927.1 L269.2 913.7 L269.5 924.8 L269.8 910.6 L270.0 908.9 L270.2 909.2 L270.5 906.4 L270.8 906.5 L271.0 900.8 L271.2 893.7 L271.5 887.5 L271.8 884.4 L272.0 863.6 L272.2 851.1 L272.5 846.9 L272.8 822.3 L273.0 822.3 L273.2 822.3 L273.5 844.0 L273.8 859.6 L274.0 870.2 L274.2 856.2 L274.5 863.7 L274.8 874.9 L275.0 876.6 L275.2 879.0 L275.5 881.7 L275.8 873.6 L276.0 878.6 L276.2 883.8 L276.5 895.8 L276.8 877.9 L277.0 894.5 L277.2 902.1 L277.5 890.3 L277.8 897.3 L278.0 912.7 L278.2 913.3 L278.5 906.0 L278.8 911.6 L279.0 903.9 L279.2 885.4 L279.5 886.4 L279.8 903.2 L280.0 898.6 L280.2 899.0 L280.5 905.0 L280.8 916.2 L281.0 900.6 L281.2 910.8 L281.5 911.1 L281.8 909.8 L282.0 921.9 L282.2 910.6 L282.5 924.3 L282.8 924.1 L283.0 928.9 L283.2 920.5 L283.5 916.1 L283.8 925.7 L284.0 915.2 L284.2 904.6 L284.5 892.6 L284.8 874.0 L285.0 854.9 L285.2 840.8 L285.5 823.6 L285.8 826.2 L286.0 806.0 L286.2 817.7 L286.5 822.4 L286.8 840.0 L287.0 851.0 L287.2 863.7 L287.5 848.3 L287.8 857.1 L288.0 876.2 L288.2 864.1 L288.5 879.1 L288.8 877.0 L289.0 875.6 L289.2 890.0 L289.5 890.4 L289.8 896.6 L290.0 883.1 L290.2 879.7 L290.5 877.1 L290.8 882.2 L291.0 888.2 L291.2 881.9 L291.5 897.1 L291.8 892.1 L292.0 893.8 L292.2 898.1 L292.5 892.8 L292.8 898.7 L293.0 898.3 L293.2 902.3 L293.5 909.7 L293.8 902.8 L294.0 908.7 L294.2 912.8 L294.5 917.4 L294.8 923.3 L295.0 919.1 L295.2 919.8 L295.5 918.0 L295.8 923.6 L296.0 919.5 L296.2 923.6 L296.5 932.0 L296.8 923.5 L297.0 924.0 L297.2 921.8 L297.5 916.1 L297.8 905.1 L298.0 913.1 L298.2 920.1 L298.5 913.1 L298.8 899.2 L299.0 921.2 L299.2 917.7 L299.5 922.4 L299.8 917.3 L300.0 916.4 L300.2 924.9 L300.5 917.2 L300.8 929.6 L301.0 926.0 L301.2 933.8 L301.5 929.1 L301.8 933.8 L302.0 927.3 L302.2 939.7 L302.5 935.7 L302.8 938.7 L303.0 944.5 L303.2 948.1 L303.5 949.6 L303.8 927.3 L304.0 901.3 L304.2 887.7 L304.5 863.0 L304.8 831.7 L305.0 827.7 L305.2 798.7 L305.5 775.0 L305.8 782.9 L306.0 790.1 L306.2 798.1 L306.5 802.9 L306.8 812.1 L307.0 824.1 L307.2 823.2 L307.5 823.9 L307.8 833.6 L308.0 851.5 L308.2 851.1 L308.5 862.4 L308.8 869.6 L309.0 871.9 L309.2 876.4 L309.5 884.5 L309.8 879.8 L310.0 897.3 L310.2 892.7 L310.5 891.8 L310.8 896.0 L311.0 908.8 L311.2 914.2 L311.5 925.0 L311.8 919.8 L312.0 907.3 L312.2 931.2 L312.5 930.4 L312.8 917.7 L313.0 916.2 L313.2 929.2 L313.5 920.1 L313.8 914.6 L314.0 926.5 L314.2 911.9 L314.5 925.5 L314.8 914.7 L315.0 920.0 L315.2 927.2 L315.5 932.9 L315.8 924.4 L316.0 922.4 L316.2 923.5 L316.5 922.6 L316.8 915.9 L317.0 905.2 L317.2 911.1 L317.5 904.4 L317.8 898.4 L318.0 890.3 L318.2 877.5 L318.5 868.1 L318.8 873.3 L319.0 863.4 L319.2 883.2 L319.5 857.1 L319.8 843.3 L320.0 866.2 L320.2 856.4 L320.5 887.2 L320.8 871.0 L321.0 889.9 L321.2 896.9 L321.5 898.7 L321.8 899.3 L322.0 909.8 L322.2 913.8 L322.5 912.3 L322.8 909.8 L323.0 912.7 L323.2 913.8 L323.5 924.6 L323.8 926.8 L324.0 927.4 L324.2 927.2 L324.5 919.7 L324.8 909.6 L325.0 909.8 L325.2 909.1 L325.5 896.9 L325.8 905.3 L326.0 909.3 L326.2 899.0 L326.5 905.2 L326.8 908.3 L327.0 907.3 L327.2 915.8 L327.5 903.3 L327.8 890.8 L328.0 877.3 L328.2 864.5 L328.5 861.1 L328.8 849.0 L329.0 861.4 L329.2 829.7 L329.5 854.6 L329.8 850.3 L330.0 841.7 L330.2 873.0 L330.5 886.5 L330.8 871.4 L331.0 891.7 L331.2 891.4 L331.5 897.3 L331.8 896.9 L332.0 900.4 L332.2 910.4 L332.5 905.6 L332.8 921.1 L333.0 914.1 L333.2 921.8 L333.5 907.4 L333.8 909.4 L334.0 903.8 L334.2 882.8 L334.5 894.7 L334.8 887.5 L335.0 878.0 L335.2 884.7 L335.5 889.2 L335.8 890.0 L336.0 877.5 L336.2 900.9 L336.5 899.5 L336.8 881.1 L337.0 870.0 L337.2 848.6 L337.5 828.5 L337.8 824.9 L338.0 799.3 L338.2 779.1 L338.5 758.7 L338.8 776.8 L339.0 788.2 L339.2 800.4 L339.5 806.4 L339.8 790.3 L340.0 826.5 L340.2 811.1 L340.5 818.9 L340.8 834.4 L341.0 818.0 L341.2 829.6 L341.5 818.8 L341.8 839.1 L342.0 820.6 L342.2 856.3 L342.5 841.6 L342.8 834.7 L343.0 844.7 L343.2 859.5 L343.5 861.6 L343.8 868.4 L344.0 849.7 L344.2 876.1 L344.5 876.7 L344.8 887.0 L345.0 888.2 L345.2 883.1 L345.5 893.9 L345.8 896.1 L346.0 893.1 L346.2 885.9 L346.5 876.5 L346.8 875.6 L347.0 866.8 L347.2 866.4 L347.5 851.1 L347.8 866.2 L348.0 874.5 L348.2 873.5 L348.5 879.8 L348.8 897.0 L349.0 892.7 L349.2 885.3 L349.5 896.4 L349.8 896.3 L350.0 910.0 L350.2 919.3 L350.5 913.7 L350.8 905.0 L351.0 922.0 L351.2 920.9 L351.5 913.8 L351.8 922.4 L352.0 926.8 L352.2 922.2 L352.5 926.0 L352.8 929.8 L353.0 922.9 L353.2 927.2 L353.5 922.0 L353.8 915.0 L354.0 924.2 L354.2 915.6 L354.5 906.2 L354.8 877.3 L355.0 857.0 L355.2 837.0 L355.5 818.4 L355.8 800.4 L356.0 791.7 L356.2 774.6 L356.5 792.5 L356.8 807.1 L357.0 795.2 L357.2 826.5 L357.5 833.5 L357.8 855.1 L358.0 846.5 L358.2 850.3 L358.5 878.2 L358.8 872.6 L359.0 874.0 L359.2 877.3 L359.5 867.6 L359.8 862.7 L360.0 886.2 L360.2 871.5 L360.5 877.7 L360.8 868.0 L361.0 895.3 L361.2 878.4 L361.5 871.6 L361.8 886.1 L362.0 876.8 L362.2 893.1 L362.5 884.1 L362.8 890.7 L363.0 898.4 L363.2 905.7 L363.5 905.3 L363.8 900.8 L364.0 908.6 L364.2 916.4 L364.5 895.0 L364.8 924.7 L365.0 920.5 L365.2 919.3 L365.5 927.8 L365.8 925.8 L366.0 929.4 L366.2 935.9 L366.5 930.0 L366.8 938.8 L367.0 934.6 L367.2 918.1 L367.5 917.6 L367.8 891.5 L368.0 871.9 L368.2 857.6 L368.5 844.5 L368.8 834.1 L369.0 824.0 L369.2 831.4 L369.5 839.7 L369.8 855.4 L370.0 864.3 L370.2 858.4 L370.5 878.2 L370.8 875.0 L371.0 889.7 L371.2 901.8 L371.5 888.0 L371.8 898.6 L372.0 903.1 L372.2 918.2 L372.5 917.0 L372.8 917.6 L373.0 926.7 L373.2 916.4 L373.5 941.1 L373.8 927.4 L374.0 941.2 L374.2 940.4 L374.5 940.3 L374.8 924.5 L375.0 925.6 L375.2 921.1 L375.5 917.6 L375.8 916.3 L376.0 908.5 L376.2 911.5 L376.5 910.6 L376.8 916.3 L377.0 931.0 L377.2 923.7 L377.5 913.9 L377.8 925.5 L378.0 924.7 L378.2 929.1 L378.5 930.0 L378.8 928.3 L379.0 936.8 L379.2 931.5 L379.5 939.5 L379.8 930.4 L380.0 941.9 L380.2 932.5 L380.5 930.3 L380.8 946.2 L381.0 936.1 L381.2 943.1 L381.5 937.5 L381.8 946.4 L382.0 944.5 L382.2 944.8 L382.5 933.1 L382.8 945.5 L383.0 926.9 L383.2 924.6 L383.5 924.2 L383.8 918.1 L384.0 911.1 L384.2 917.2 L384.5 913.9 L384.8 929.2 L385.0 935.5 L385.2 931.9 L385.5 931.2 L385.8 932.7 L386.0 927.9 L386.2 923.4 L386.5 933.3 L386.8 945.2 L387.0 929.8 L387.2 901.1 L387.5 858.3 L387.8 813.6 L388.0 782.8 L388.2 744.5 L388.5 707.7 L388.8 677.4 L389.0 643.0 L389.2 670.4 L389.5 695.3 L389.8 716.7 L390.0 734.5 L390.2 750.6 L390.5 765.1 L390.8 776.8 L391.0 791.3 L391.2 800.6 L391.5 804.3 L391.8 820.0 L392.0 830.7 L392.2 831.7 L392.5 825.0 L392.8 861.1 L393.0 833.6 L393.2 851.0 L393.5 858.9 L393.8 845.1 L394.0 848.3 L394.2 837.8 L394.5 852.8 L394.8 835.4 L395.0 857.9 L395.2 851.9 L395.5 855.6 L395.8 866.3 L396.0 863.7 L396.2 877.5 L396.5 867.1 L396.8 881.8 L397.0 888.1 L397.2 887.6 L397.5 890.9 L397.8 899.4 L398.0 889.0 L398.2 894.1 L398.5 889.4 L398.8 902.7 L399.0 900.6 L399.2 891.8 L399.5 901.1 L399.8 898.6 L400.0 900.6 L400.2 899.7 L400.5 903.7 L400.8 909.8 L401.0 918.9 L401.2 913.1 L401.5 920.6 L401.8 913.1 L402.0 924.5 L402.2 911.9 L402.5 919.0 L402.8 921.9 L403.0 930.2 L403.2 923.9 L403.5 930.8 L403.8 923.0 L404.0 926.9 L404.2 922.8 L404.5 913.0 L404.8 906.7 L405.0 920.2 L405.2 916.1 L405.5 916.2 L405.8 901.2 L406.0 885.4 L406.2 846.4 L406.5 851.9 L406.8 819.8 L407.0 803.2 L407.2 784.1 L407.5 762.1 L407.8 779.5 L408.0 795.2 L408.2 802.6 L408.5 798.0 L408.8 828.7 L409.0 839.4 L409.2 848.2 L409.5 839.7 L409.8 855.4 L410.0 863.7 L410.2 876.5 L410.5 878.3 L410.8 872.7 L411.0 879.7 L411.2 897.5 L411.5 891.8 L411.8 888.8 L412.0 871.6 L412.2 899.6 L412.5 906.1 L412.8 882.4 L413.0 887.1 L413.2 889.4 L413.5 870.9 L413.8 875.0 L414.0 880.4 L414.2 886.0 L414.5 881.2 L414.8 883.0 L415.0 897.2 L415.2 883.9 L415.5 902.1 L415.8 888.6 L416.0 899.3 L416.2 906.2 L416.5 907.4 L416.8 915.9 L417.0 916.3 L417.2 909.2 L417.5 922.5 L417.8 918.6 L418.0 926.2 L418.2 924.1 L418.5 917.9 L418.8 930.0 L419.0 922.2 L419.2 936.8 L419.5 928.1 L419.8 926.5 L420.0 919.7 L420.2 918.9 L420.5 928.9 L420.8 923.0 L421.0 916.9 L421.2 923.3 L421.5 907.8 L421.8 896.9 L422.0 894.7 L422.2 900.7 L422.5 903.1 L422.8 893.4 L423.0 875.9 L423.2 861.9 L423.5 837.7 L423.8 828.1 L424.0 825.6 L424.2 799.0 L424.5 781.7 L424.8 797.3 L425.0 814.4 L425.2 819.0 L425.5 835.6 L425.8 820.5 L426.0 820.2 L426.2 808.5 L426.5 826.3 L426.8 837.0 L427.0 842.7 L427.2 843.7 L427.5 849.5 L427.8 865.9 L428.0 865.3 L428.2 867.0 L428.5 889.7 L428.8 870.9 L429.0 886.2 L429.2 881.4 L429.5 892.9 L429.8 895.3 L430.0 896.3 L430.2 896.3 L430.5 895.0 L430.8 903.2 L431.0 911.1 L431.2 907.8 L431.5 909.8 L431.8 899.4 L432.0 911.0 L432.2 897.0 L432.5 906.2 L432.8 907.2 L433.0 894.3 L433.2 899.6 L433.5 896.6 L433.8 886.7 L434.0 883.3 L434.2 870.4 L434.5 822.9 L434.8 821.6 L435.0 805.9 L435.2 785.3 L435.5 762.8 L435.8 741.9 L436.0 719.8 L436.2 737.1 L436.5 755.3 L436.8 767.2 L437.0 780.6 L437.2 793.1 L437.5 801.4 L437.8 821.5 L438.0 814.4 L438.2 821.6 L438.5 838.8 L438.8 841.5 L439.0 841.5 L439.2 836.6 L439.5 829.5 L439.8 842.9 L440.0 834.0 L440.2 848.3 L440.5 865.7 L440.8 867.9 L441.0 867.7 L441.2 874.4 L441.5 874.3 L441.8 871.8 L442.0 877.4 L442.2 875.2 L442.5 888.7 L442.8 889.6 L443.0 895.7 L443.2 900.8 L443.5 894.5 L443.8 892.7 L444.0 896.9 L444.2 898.4 L444.5 888.5 L444.8 912.0 L445.0 911.5 L445.2 912.2 L445.5 914.4 L445.8 899.3 L446.0 904.3 L446.2 895.9 L446.5 905.7 L446.8 882.7 L447.0 878.9 L447.2 902.4 L447.5 897.5 L447.8 898.4 L448.0 897.4 L448.2 912.7 L448.5 902.9 L448.8 907.9 L449.0 916.7 L449.2 929.2 L449.5 921.6 L449.8 922.2 L450.0 917.6 L450.2 924.7 L450.5 929.6 L450.8 919.1 L451.0 922.1 L451.2 920.0 L451.5 926.4 L451.8 923.0 L452.0 903.4 L452.2 896.6 L452.5 864.8 L452.8 836.3 L453.0 820.7 L453.2 801.4 L453.5 784.0 L453.8 766.1 L454.0 785.1 L454.2 800.4 L454.5 817.3 L454.8 835.9 L455.0 849.1 L455.2 847.3 L455.5 853.8 L455.8 870.6 L456.0 879.6 L456.2 883.0 L456.5 877.4 L456.8 890.3 L457.0 877.0 L457.2 897.8 L457.5 883.9 L457.8 882.5 L458.0 882.5 L458.2 896.3 L458.5 899.2 L458.8 903.7 L459.0 890.0 L459.2 897.9 L459.5 899.4 L459.8 902.6 L460.0 898.3 L460.2 903.2 L460.5 898.2 L460.8 921.8 L461.0 905.8 L461.2 916.2 L461.5 913.3 L461.8 911.5 L462.0 908.7 L462.2 901.1 L462.5 903.1 L462.8 913.8 L463.0 908.7 L463.2 914.0 L463.5 912.7 L463.8 914.5 L464.0 916.9 L464.2 913.3 L464.5 926.6 L464.8 910.1 L465.0 926.1 L465.2 931.9 L465.5 923.0 L465.8 920.7 L466.0 921.1 L466.2 922.3 L466.5 929.0 L466.8 932.4 L467.0 932.5 L467.2 936.5 L467.5 942.0 L467.8 932.3 L468.0 934.5 L468.2 944.8 L468.5 945.9 L468.8 949.5 L469.0 944.3 L469.2 925.4 L469.5 912.9 L469.8 893.2 L470.0 881.8 L470.2 870.7 L470.5 829.5 L470.8 815.5 L471.0 841.7 L471.2 827.1 L471.5 825.3 L471.8 854.7 L472.0 863.9 L472.2 861.8 L472.5 869.4 L472.8 878.8 L473.0 865.6 L473.2 871.3 L473.5 880.4 L473.8 885.5 L474.0 890.5 L474.2 887.0 L474.5 894.9 L474.8 887.4 L475.0 892.6 L475.2 907.0 L475.5 898.4 L475.8 891.6 L476.0 896.5 L476.2 905.6 L476.5 897.4 L476.8 893.1 L477.0 894.3 L477.2 895.7 L477.5 900.3 L477.8 895.1 L478.0 892.5 L478.2 906.7 L478.5 913.4 L478.8 904.8 L479.0 907.9 L479.2 907.3 L479.5 918.6 L479.8 914.3 L480.0 927.1 L480.2 918.2 L480.5 918.0 L480.8 931.0 L481.0 943.3 L481.2 932.8 L481.5 936.7 L481.8 916.7 L482.0 902.8 L482.2 885.9 L482.5 858.3 L482.8 865.0 L483.0 849.2 L483.2 827.6 L483.5 815.5 L483.8 815.9 L484.0 831.8 L484.2 840.9 L484.5 838.6 L484.8 825.5 L485.0 828.7 L485.2 832.5 L485.5 845.8 L485.8 862.8 L486.0 854.9 L486.2 867.8 L486.5 854.6 L486.8 891.8 L487.0 868.8 L487.2 878.4 L487.5 885.1 L487.8 891.0 L488.0 894.4 L488.2 899.4 L488.5 907.5 L488.8 886.3 L489.0 893.1 L489.2 896.3 L489.5 899.2 L489.8 916.5 L490.0 906.3 L490.2 906.5 L490.5 902.3 L490.8 916.3 L491.0 907.1 L491.2 907.8 L491.5 903.2 L491.8 906.9 L492.0 896.6 L492.2 896.2 L492.5 908.8 L492.8 892.8 L493.0 890.0 L493.2 909.8 L493.5 899.7 L493.8 912.9 L494.0 911.2 L494.2 896.7 L494.5 906.5 L494.8 897.6 L495.0 905.4 L495.2 901.4 L495.5 910.2 L495.8 903.7 L496.0 903.8 L496.2 908.6 L496.5 919.2 L496.8 919.9 L497.0 925.2 L497.2 918.6 L497.5 917.1 L497.8 928.7 L498.0 920.4 L498.2 928.7 L498.5 915.9 L498.8 919.5 L499.0 912.9 L499.2 922.9 L499.5 922.5 L499.8 924.5 L500.0 914.2 L500.2 924.0 L500.5 911.3 L500.8 920.5 L501.0 921.3 L501.2 935.5 L501.5 930.0 L501.8 928.0 L502.0 927.9 L502.2 937.4 L502.5 932.3 L502.8 938.7 L503.0 933.3 L503.2 938.1 L503.5 940.3 L503.8 914.9 L504.0 886.4 L504.2 874.3 L504.5 841.9 L504.8 836.0 L505.0 805.5 L505.2 783.9 L505.5 758.7 L505.8 773.0 L506.0 785.9 L506.2 796.3 L506.5 804.8 L506.8 830.0 L507.0 821.8 L507.2 826.9 L507.5 837.1 L507.8 851.1 L508.0 842.5 L508.2 859.7 L508.5 856.9 L508.8 874.8 L509.0 866.6 L509.2 865.7 L509.5 882.7 L509.8 881.2 L510.0 876.1 L510.2 879.8 L510.5 881.7 L510.8 888.4 L511.0 901.2 L511.2 894.2 L511.5 904.5 L511.8 898.0 L512.0 915.8 L512.2 895.3 L512.5 893.2 L512.8 898.9 L513.0 904.1 L513.2 899.8 L513.5 891.1 L513.8 886.9 L514.0 898.5 L514.2 892.1 L514.5 898.3 L514.8 903.1 L515.0 912.2 L515.2 910.6 L515.5 917.2 L515.8 911.6 L516.0 917.5 L516.2 906.6 L516.5 914.7 L516.8 913.7 L517.0 914.1 L517.2 914.6 L517.5 925.6 L517.8 909.1 L518.0 917.4 L518.2 923.0 L518.5 923.7 L518.8 922.2 L519.0 921.7 L519.2 917.1 L519.5 920.5 L519.8 898.7 L520.0 885.4 L520.2 876.0 L520.5 835.8 L520.8 841.7 L521.0 820.0 L521.2 807.7 L521.5 793.2 L521.8 800.8 L522.0 809.2 L522.2 833.0 L522.5 847.5 L522.8 847.3 L523.0 876.0 L523.2 866.3 L523.5 874.9 L523.8 876.4 L524.0 893.7 L524.2 888.9 L524.5 898.8 L524.8 899.3 L525.0 894.1 L525.2 900.1 L525.5 903.0 L525.8 889.5 L526.0 899.1 L526.2 908.1 L526.5 904.4 L526.8 899.4 L527.0 902.6 L527.2 904.7 L527.5 906.1 L527.8 913.1 L528.0 911.3 L528.2 917.9 L528.5 916.3 L528.8 917.6 L529.0 918.3 L529.2 917.5 L529.5 917.9 L529.8 921.4 L530.0 912.3 L530.2 921.1 L530.5 910.9 L530.8 916.0 L531.0 926.0 L531.2 910.1 L531.5 909.2 L531.8 875.0 L532.0 862.9 L532.2 860.5 L532.5 861.1 L532.8 836.4 L533.0 833.3 L533.2 812.2 L533.5 833.8 L533.8 835.8 L534.0 839.6 L534.2 850.5 L534.5 856.3 L534.8 868.6 L535.0 865.1 L535.2 877.1 L535.5 863.8 L535.8 876.4 L536.0 864.7 L536.2 872.3 L536.5 868.0 L536.8 867.9 L537.0 870.5 L537.2 897.3 L537.5 894.5 L537.8 899.2 L538.0 889.4 L538.2 905.0 L538.5 901.6 L538.8 910.3 L539.0 917.9 L539.2 913.1 L539.5 921.6 L539.8 914.7 L540.0 917.9 L540.2 915.9 L540.5 933.3 L540.8 920.5 L541.0 927.4 L541.2 943.1 L541.5 925.3 L541.8 928.7 L542.0 942.4 L542.2 935.4 L542.5 945.7 L542.8 937.4 L543.0 936.6 L543.2 934.2 L543.5 941.0 L543.8 935.3 L544.0 925.6 L544.2 905.3 L544.5 890.4 L544.8 882.7 L545.0 866.2 L545.2 861.9 L545.5 859.5 L545.8 851.7 L546.0 873.4 L546.2 871.0 L546.5 889.5 L546.8 885.2 L547.0 893.0 L547.2 887.9 L547.5 902.4 L547.8 906.2 L548.0 907.4 L548.2 911.1 L548.5 910.1 L548.8 921.6 L549.0 927.3 L549.2 928.6 L549.5 916.2 L549.8 929.8 L550.0 928.0 L550.2 930.5 L550.5 919.5 L550.8 927.8 L551.0 919.7 L551.2 931.2 L551.5 925.6 L551.8 917.1 L552.0 909.9 L552.2 918.5 L552.5 907.6 L552.8 902.5 L553.0 909.2 L553.2 899.7 L553.5 904.4 L553.8 908.6 L554.0 920.8 L554.2 914.6 L554.5 910.3 L554.8 901.5 L555.0 904.9 L555.2 892.4 L555.5 876.9 L555.8 886.5 L556.0 878.8 L556.2 869.7 L556.5 887.7 L556.8 884.7 L557.0 875.4 L557.2 897.1 L557.5 895.4 L557.8 888.2 L558.0 895.1 L558.2 899.7 L558.5 905.8 L558.8 904.9 L559.0 908.8 L559.2 903.0 L559.5 906.6 L559.8 899.6 L560.0 914.1 L560.2 896.0 L560.5 901.0 L560.8 901.3 L561.0 908.1 L561.2 905.3 L561.5 908.8 L561.8 908.5 L562.0 916.9 L562.2 914.9 L562.5 912.2 L562.8 913.5 L563.0 924.3 L563.2 923.4 L563.5 929.1 L563.8 928.4 L564.0 929.3 L564.2 927.0 L564.5 929.3 L564.8 928.8 L565.0 926.1 L565.2 939.4 L565.5 929.9 L565.8 927.6 L566.0 932.6 L566.2 928.5 L566.5 930.6 L566.8 921.0 L567.0 931.9 L567.2 936.4 L567.5 938.2 L567.8 945.1 L568.0 942.3 L568.2 946.3 L568.5 953.6 L568.8 949.1 L569.0 934.3 L569.2 945.3 L569.5 948.0 L569.8 943.3 L570.0 948.2 L570.2 942.6 L570.5 937.2 L570.8 948.5 L571.0 942.1 L571.2 938.3 L571.5 938.6 L571.8 939.0 L572.0 936.1 L572.2 931.0 L572.5 937.0 L572.8 935.5 L573.0 931.3 L573.2 934.7 L573.5 926.8 L573.8 905.1 L574.0 874.0 L574.2 856.3 L574.5 836.1 L574.8 800.9 L575.0 799.0 L575.2 779.8 L575.5 762.1 L575.8 779.0 L576.0 793.7 L576.2 808.0 L576.5 811.9 L576.8 835.9 L577.0 842.6 L577.2 855.6 L577.5 852.3 L577.8 863.2 L578.0 874.3 L578.2 873.0 L578.5 860.9 L578.8 890.6 L579.0 890.1 L579.2 882.1 L579.5 896.0 L579.8 874.7 L580.0 898.6 L580.2 899.0 L580.5 896.1 L580.8 886.7 L581.0 890.7 L581.2 892.9 L581.5 896.2 L581.8 888.5 L582.0 904.8 L582.2 888.4 L582.5 875.9 L582.8 888.3 L583.0 870.5 L583.2 862.3 L583.5 862.8 L583.8 876.8 L584.0 865.0 L584.2 876.5 L584.5 876.8 L584.8 894.5 L585.0 897.5 L585.2 899.6 L585.5 888.8 L585.8 915.6 L586.0 913.9 L586.2 899.6 L586.5 900.5 L586.8 917.6 L587.0 903.0 L587.2 902.0 L587.5 895.3 L587.8 916.6 L588.0 912.7 L588.2 902.9 L588.5 908.2 L588.8 921.6 L589.0 921.7 L589.2 927.8 L589.5 912.8 L589.8 924.7 L590.0 915.0 L590.2 916.7 L590.5 921.3 L590.8 915.8 L591.0 904.5 L591.2 903.8 L591.5 899.4 L591.8 904.0 L592.0 908.7 L592.2 909.6 L592.5 920.4 L592.8 921.4 L593.0 916.2 L593.2 921.6 L593.5 933.0 L593.8 927.8 L594.0 933.6 L594.2 914.9 L594.5 884.7 L594.8 881.9 L595.0 863.0 L595.2 833.8 L595.5 820.6 L595.8 802.1 L596.0 785.1 L596.2 798.3 L596.5 814.3 L596.8 827.7 L597.0 831.0 L597.2 831.6 L597.5 824.5 L597.8 816.0 L598.0 833.8 L598.2 817.4 L598.5 839.4 L598.8 858.2 L599.0 852.4 L599.2 848.7 L599.5 852.4 L599.8 875.0 L600.0 857.2 L600.2 883.1 L600.5 886.3 L600.8 888.7 L601.0 876.1 L601.2 889.4 L601.5 888.8 L601.8 909.5 L602.0 897.0 L602.2 902.5 L602.5 899.4 L602.8 906.3 L603.0 898.2 L603.2 912.6 L603.5 918.9 L603.8 921.4 L604.0 902.2 L604.2 903.9 L604.5 910.0 L604.8 897.9 L605.0 903.3 L605.2 900.4 L605.5 912.3 L605.8 910.8 L606.0 912.2 L606.2 915.1 L606.5 921.3 L606.8 916.5 L607.0 916.8 L607.2 928.2 L607.5 922.8 L607.8 933.2 L608.0 924.0 L608.2 928.9 L608.5 922.9 L608.8 924.5 L609.0 927.6 L609.2 921.1 L609.5 931.3 L609.8 931.2 L610.0 928.6 L610.2 929.6 L610.5 929.5 L610.8 932.3 L611.0 937.0 L611.2 932.4 L611.5 934.6 L611.8 933.6 L612.0 932.5 L612.2 942.0 L612.5 940.1 L612.8 926.8 L613.0 917.0 L613.2 912.5 L613.5 876.8 L613.8 871.3 L614.0 851.7 L614.2 862.7 L614.5 851.7 L614.8 860.0 L615.0 869.2 L615.2 870.5 L615.5 879.9 L615.8 886.3 L616.0 890.3 L616.2 908.9 L616.5 902.1 L616.8 906.3 L617.0 897.8 L617.2 905.0 L617.5 908.5 L617.8 906.5 L618.0 909.3 L618.2 895.0 L618.5 902.9 L618.8 908.6 L619.0 892.6 L619.2 890.9 L619.5 900.8 L619.8 901.9 L620.0 903.3 L620.2 900.3 L620.5 906.7 L620.8 903.6 L621.0 915.4 L621.2 907.1 L621.5 927.3 L621.8 919.1 L622.0 923.2 L622.2 927.7 L622.5 936.0 L622.8 926.2 L623.0 931.1 L623.2 938.3 L623.5 936.9 L623.8 930.8 L624.0 927.1 L624.2 928.3 L624.5 927.7 L624.8 915.3 L625.0 916.1 L625.2 909.2 L625.5 921.5 L625.8 919.5 L626.0 916.9 L626.2 929.9 L626.5 926.6 L626.8 930.8 L627.0 934.7 L627.2 926.9 L627.5 939.7 L627.8 940.2 L628.0 946.8 L628.2 938.3 L628.5 933.9 L628.8 938.1 L629.0 933.1 L629.2 940.9 L629.5 931.9 L629.8 937.0 L630.0 938.4 L630.2 931.5 L630.5 934.7 L630.8 917.7 L631.0 905.6 L631.2 884.1 L631.5 873.1 L631.8 867.7 L632.0 845.7 L632.2 837.0 L632.5 834.8 L632.8 843.7 L633.0 838.2 L633.2 867.5 L633.5 869.1 L633.8 876.0 L634.0 893.2 L634.2 899.1 L634.5 892.5 L634.8 892.0 L635.0 895.9 L635.2 902.9 L635.5 895.8 L635.8 889.4 L636.0 886.7 L636.2 887.6 L636.5 894.0 L636.8 895.1 L637.0 894.3 L637.2 919.5 L637.5 903.5 L637.8 911.4 L638.0 908.1 L638.2 910.0 L638.5 919.4 L638.8 917.1 L639.0 910.5 L639.2 908.7 L639.5 897.9 L639.8 901.6 L640.0 883.2 L640.2 893.6 L640.5 876.6 L640.8 898.1 L641.0 898.4 L641.2 897.4 L641.5 916.2 L641.8 918.3 L642.0 913.1 L642.2 913.4 L642.5 915.8 L642.8 920.5 L643.0 919.0 L643.2 929.5 L643.5 929.5 L643.8 922.0 L644.0 931.7 L644.2 926.8 L644.5 932.2 L644.8 921.8 L645.0 928.3 L645.2 914.8 L645.5 910.7 L645.8 916.0 L646.0 920.2 L646.2 925.8 L646.5 918.7 L646.8 921.4 L647.0 911.4 L647.2 889.1 L647.5 904.0 L647.8 890.2 L648.0 890.4 L648.2 864.2 L648.5 864.2 L648.8 881.2 L649.0 883.4 L649.2 870.4 L649.5 879.3 L649.8 879.6 L650.0 886.6 L650.2 880.7 L650.5 880.2 L650.8 880.9 L651.0 898.0 L651.2 901.4 L651.5 904.5 L651.8 898.5 L652.0 911.2 L652.2 913.6 L652.5 910.1 L652.8 918.0 L653.0 920.0 L653.2 907.9 L653.5 912.2 L653.8 910.7 L654.0 911.5 L654.2 900.6 L654.5 905.2 L654.8 900.0 L655.0 902.6 L655.2 889.7 L655.5 888.1 L655.8 880.4 L656.0 887.1 L656.2 884.7 L656.5 893.2 L656.8 897.4 L657.0 903.9 L657.2 908.9 L657.5 916.6 L657.8 914.9 L658.0 922.7 L658.2 918.2 L658.5 925.7 L658.8 935.4 L659.0 940.2 L659.2 932.5 L659.5 925.3 L659.8 923.2 L660.0 912.1 L660.2 907.0 L660.5 897.4 L660.8 875.4 L661.0 867.2 L661.2 855.1 L661.5 870.4 L661.8 857.6 L662.0 850.0 L662.2 850.0 L662.5 861.3 L662.8 873.8 L663.0 874.4 L663.2 885.8 L663.5 887.8 L663.8 889.1 L664.0 894.5 L664.2 895.1 L664.5 894.8 L664.8 898.9 L665.0 895.6 L665.2 900.6 L665.5 903.7 L665.8 914.3 L666.0 903.8 L666.2 897.7 L666.5 890.9 L666.8 893.3 L667.0 892.5 L667.2 890.8 L667.5 901.9 L667.8 903.5 L668.0 904.1 L668.2 913.1 L668.5 917.0 L668.8 914.6 L669.0 913.7 L669.2 921.6 L669.5 928.1 L669.8 926.0 L670.0 919.0 L670.2 930.6 L670.5 923.9 L670.8 933.7 L671.0 932.2 L671.2 938.1 L671.5 935.4 L671.8 939.0 L672.0 937.9 L672.2 946.0 L672.5 933.4 L672.8 946.5 L673.0 939.8 L673.2 934.5 L673.5 936.4 L673.8 928.0 L674.0 926.8 L674.2 922.6 L674.5 925.7 L674.8 914.4 L675.0 911.9 L675.2 925.0 L675.5 929.6 L675.8 925.0 L676.0 931.1 L676.2 931.7 L676.5 928.2 L676.8 931.2 L677.0 931.0 L677.2 936.8 L677.5 945.5 L677.8 941.9 L678.0 931.7 L678.2 923.7 L678.5 929.2 L678.8 928.6 L679.0 912.9 L679.2 925.7 L679.5 923.3 L679.8 919.7 L680.0 931.1 L680.2 927.5 L680.5 927.5 L680.8 921.6 L681.0 918.9 L681.2 924.8 L681.5 919.7 L681.8 931.3 L682.0 923.8 L682.2 914.5 L682.5 913.2 L682.8 910.4 L683.0 900.0 L683.2 897.3 L683.5 873.7 L683.8 878.5 L684.0 867.6 L684.2 876.5 L684.5 879.9 L684.8 885.7 L685.0 886.4 L685.2 900.9 L685.5 893.2 L685.8 904.4 L686.0 898.8 L686.2 904.1 L686.5 896.5 L686.8 900.8 L687.0 906.2 L687.2 903.8 L687.5 891.1 L687.8 880.3 L688.0 894.2 L688.2 896.9 L688.5 893.9 L688.8 908.0 L689.0 905.1 L689.2 908.6 L689.5 917.4 L689.8 914.4 L690.0 915.4 L690.2 916.8 L690.5 926.6 L690.8 910.4 L691.0 925.5 L691.2 928.4 L691.5 930.3 L691.8 935.7 L692.0 923.2 L692.2 943.1 L692.5 927.1 L692.8 929.1 L693.0 915.6 L693.2 911.0 L693.5 909.9 L693.8 902.5 L694.0 858.0 L694.2 849.1 L694.5 818.6 L694.8 793.3 L695.0 767.7 L695.2 745.4 L695.5 719.9 L695.8 697.8 L696.0 721.7 L696.2 742.3 L696.5 756.9 L696.8 768.2 L697.0 775.1 L697.2 779.7 L697.5 784.9 L697.8 787.2 L698.0 795.6 L698.2 803.5 L698.5 813.8 L698.8 828.5 L699.0 834.0 L699.2 847.0 L699.5 851.1 L699.8 837.1 L700.0 864.0 L700.2 865.2 L700.5 858.3 L700.8 867.5 L701.0 863.7 L701.2 881.4 L701.5 886.4 L701.8 872.8 L702.0 891.0 L702.2 890.3 L702.5 893.1 L702.8 908.7 L703.0 900.9 L703.2 905.0 L703.5 901.2 L703.8 905.2 L704.0 908.1 L704.2 883.7 L704.5 898.9 L704.8 878.6 L705.0 875.6 L705.2 870.8 L705.5 874.3 L705.8 871.9 L706.0 887.7 L706.2 890.3 L706.5 886.4 L706.8 891.5 L707.0 893.0 L707.2 897.5 L707.5 903.9 L707.8 909.1 L708.0 911.0 L708.2 906.7 L708.5 906.6 L708.8 908.1 L709.0 925.7 L709.2 925.8 L709.5 926.6 L709.8 907.3 L710.0 892.7 L710.2 848.1 L710.5 828.3 L710.8 818.5 L711.0 788.7 L711.2 759.9 L711.5 730.0 L711.8 740.5 L712.0 746.8 L712.2 754.2 L712.5 765.8 L712.8 778.1 L713.0 792.3 L713.2 801.5 L713.5 799.0 L713.8 819.0 L714.0 830.5 L714.2 821.2 L714.5 849.2 L714.8 858.3 L715.0 860.9 L715.2 847.9 L715.5 852.0 L715.8 873.7 L716.0 847.2 L716.2 856.7 L716.5 849.8 L716.8 859.2 L717.0 843.5 L717.2 859.5 L717.5 863.8 L717.8 885.2 L718.0 875.7 L718.2 884.1 L718.5 891.9 L718.8 896.6 L719.0 899.0 L719.2 903.8 L719.5 903.8 L719.8 901.7 L720.0 900.5 L720.2 913.8 L720.5 910.7 L720.8 903.9 L721.0 908.6 L721.2 900.4 L721.5 895.8 L721.8 891.9 L722.0 890.4 L722.2 890.9 L722.5 897.0 L722.8 902.9 L723.0 906.1 L723.2 915.0 L723.5 920.5 L723.8 911.8 L724.0 917.5 L724.2 912.0 L724.5 923.5 L724.8 929.5 L725.0 918.8 L725.2 905.0 L725.5 890.7 L725.8 857.5 L726.0 832.0 L726.2 825.1 L726.5 823.2 L726.8 804.3 L727.0 795.9 L727.2 806.8 L727.5 809.5 L727.8 824.6 L728.0 826.7 L728.2 849.0 L728.5 850.7 L728.8 860.0 L729.0 877.6 L729.2 855.5 L729.5 892.1 L729.8 887.6 L730.0 882.6 L730.2 889.2 L730.5 874.3 L730.8 876.6 L731.0 873.0 L731.2 873.4 L731.5 876.6 L731.8 879.5 L732.0 885.5 L732.2 884.6 L732.5 884.6 L732.8 893.2 L733.0 897.1 L733.2 899.4 L733.5 897.5 L733.8 902.6 L734.0 896.2 L734.2 896.8 L734.5 867.4 L734.8 880.7 L735.0 852.1 L735.2 853.7 L735.5 860.9 L735.8 872.8 L736.0 875.0 L736.2 883.5 L736.5 885.0 L736.8 887.2 L737.0 887.7 L737.2 907.5 L737.5 903.5 L737.8 901.7 L738.0 904.9 L738.2 920.7 L738.5 913.7 L738.8 915.7 L739.0 915.7 L739.2 931.4 L739.5 912.7 L739.8 927.2 L740.0 903.0 L740.2 906.4 L740.5 896.9 L740.8 877.3 L741.0 867.9 L741.2 863.2 L741.5 853.8 L741.8 845.7 L742.0 852.0 L742.2 840.6 L742.5 843.2 L742.8 852.3 L743.0 862.6 L743.2 868.2 L743.5 879.6 L743.8 881.9 L744.0 895.2 L744.2 895.4 L744.5 894.6 L744.8 894.0 L745.0 909.0 L745.2 916.9 L745.5 898.2 L745.8 906.4 L746.0 904.7 L746.2 910.7 L746.5 915.4 L746.8 921.0 L747.0 924.3 L747.2 908.4 L747.5 905.4 L747.8 900.3 L748.0 903.0 L748.2 893.9 L748.5 886.2 L748.8 885.6 L749.0 903.4 L749.2 888.4 L749.5 884.4 L749.8 903.7 L750.0 899.9 L750.2 904.9 L750.5 915.5 L750.8 909.2 L751.0 920.2 L751.2 921.3 L751.5 918.4 L751.8 923.7 L752.0 922.9 L752.2 918.5 L752.5 897.3 L752.8 899.9 L753.0 873.4 L753.2 872.0 L753.5 864.1 L753.8 845.9 L754.0 830.4 L754.2 844.4 L754.5 848.4 L754.8 844.8 L755.0 844.0 L755.2 846.4 L755.5 853.4 L755.8 862.7 L756.0 850.7 L756.2 854.1 L756.5 860.0 L756.8 868.0 L757.0 874.1 L757.2 870.3 L757.5 890.2 L757.8 886.6 L758.0 881.3 L758.2 899.5 L758.5 904.1 L758.8 903.9 L759.0 905.2 L759.2 904.3 L759.5 899.2 L759.8 907.3 L760.0 906.7 L760.2 913.4 L760.5 913.2 L760.8 909.5 L761.0 917.8 L761.2 907.9 L761.5 912.7 L761.8 908.0 L762.0 909.3 L762.2 900.2 L762.5 895.7 L762.8 886.7 L763.0 898.5 L763.2 887.9 L763.5 877.5 L763.8 902.2 L764.0 879.8 L764.2 891.1 L764.5 889.9 L764.8 903.4 L765.0 888.8 L765.2 910.5 L765.5 908.0 L765.8 901.0 L766.0 919.8 L766.2 926.7 L766.5 915.7 L766.8 921.5 L767.0 920.3 L767.2 923.3 L767.5 925.0 L767.8 907.6 L768.0 912.0 L768.2 924.4 L768.5 918.1 L768.8 917.8 L769.0 908.1 L769.2 908.1 L769.5 885.6 L769.8 887.7 L770.0 882.7 L770.2 870.9 L770.5 859.5 L770.8 859.5 L771.0 870.0 L771.2 880.9 L771.5 880.1 L771.8 874.6 L772.0 893.7 L772.2 899.9 L772.5 883.1 L772.8 889.8 L773.0 897.9 L773.2 899.5 L773.5 896.7 L773.8 920.6 L774.0 898.9 L774.2 908.8 L774.5 906.1 L774.8 912.6 L775.0 898.4 L775.2 920.0 L775.5 914.7 L775.8 933.6 L776.0 921.6 L776.2 918.7 L776.5 932.7 L776.8 935.3 L777.0 925.2 L777.2 919.1 L777.5 919.9 L777.8 924.8 L778.0 913.4 L778.2 915.9 L778.5 893.0 L778.8 901.3 L779.0 883.3 L779.2 891.2 L779.5 895.0 L779.8 886.5 L780.0 904.7 L780.2 892.9 L780.5 904.6 L780.8 910.2 L781.0 911.4 L781.2 900.2 L781.5 907.7 L781.8 911.5 L782.0 918.4 L782.2 903.2 L782.5 904.8 L782.8 910.6 L783.0 899.3 L783.2 917.5 L783.5 890.8 L783.8 874.1 L784.0 867.6 L784.2 867.6 L784.5 867.6 L784.8 867.6 L785.0 867.6 L785.2 876.1 L785.5 867.6 L785.8 877.7 L786.0 880.7 L786.2 872.4 L786.5 887.4 L786.8 888.8 L787.0 904.2 L787.2 895.7 L787.5 879.1 L787.8 876.3 L788.0 873.8 L788.2 869.2 L788.5 867.6 L788.8 858.1 L789.0 873.6 L789.2 896.2 L789.5 869.9 L789.8 881.7 L790.0 891.0 L790.2 886.6 L790.5 906.5 L790.8 893.9 L791.0 905.0 L791.2 904.1 L791.5 915.4 L791.8 914.5 L792.0 914.7 L792.2 913.1 L792.5 918.0 L792.8 917.3 L793.0 924.2 L793.2 913.6 L793.5 924.2 L793.8 925.2 L794.0 926.8 L794.2 933.8 L794.5 934.1 L794.8 937.9 L795.0 930.2 L795.2 936.0 L795.5 933.1 L795.8 943.4 L796.0 938.2 L796.2 932.7 L796.5 919.5 L796.8 926.0 L797.0 920.6 L797.2 897.2 L797.5 893.7 L797.8 908.8 L798.0 896.1 L798.2 899.0 L798.5 904.1 L798.8 923.5 L799.0 915.8 L799.2 922.9 L799.5 923.3 L799.8 924.6 L800.0 895.5 L800.2 904.3 L800.5 891.3 L800.8 879.9 L801.0 873.2 L801.2 866.7 L801.5 862.9 L801.8 864.6 L802.0 871.9 L802.2 888.9 L802.5 868.2 L802.8 880.5 L803.0 880.7 L803.2 881.9 L803.5 894.6 L803.8 898.6 L804.0 907.7 L804.2 897.8 L804.5 896.6 L804.8 906.2 L805.0 915.9 L805.2 904.7 L805.5 913.0 L805.8 923.3 L806.0 928.2 L806.2 916.8 L806.5 910.7 L806.8 919.3 L807.0 919.9 L807.2 919.8 L807.5 921.2 L807.8 920.4 L808.0 910.9 L808.2 909.0 L808.5 892.5 L808.8 897.3 L809.0 880.0 L809.2 876.2 L809.5 881.8 L809.8 885.9 L810.0 892.4 L810.2 885.5 L810.5 906.0 L810.8 898.6 L811.0 904.7 L811.2 915.2 L811.5 905.1 L811.8 930.8 L812.0 916.2 L812.2 920.6 L812.5 922.3 L812.8 917.1 L813.0 921.2 L813.2 914.4 L813.5 898.0 L813.8 898.4 L814.0 897.5 L814.2 880.9 L814.5 882.6 L814.8 892.4 L815.0 887.7 L815.2 899.8 L815.5 903.2 L815.8 904.1 L816.0 905.6 L816.2 906.3 L816.5 913.7 L816.8 901.9 L817.0 908.2 L817.2 909.8 L817.5 912.4 L817.8 931.3 L818.0 912.8 L818.2 924.3 L818.5 917.0 L818.8 922.1 L819.0 905.1 L819.2 907.3 L819.5 900.9 L819.8 883.3 L820.0 882.9 L820.2 903.7 L820.5 901.2 L820.8 900.7 L821.0 905.1 L821.2 902.3 L821.5 912.7 L821.8 921.5 L822.0 918.1 L822.2 914.9 L822.5 911.6 L822.8 911.9 L823.0 911.5 L823.2 920.3 L823.5 922.4 L823.8 919.4 L824.0 923.0 L824.2 928.1 L824.5 925.1 L824.8 919.3 L825.0 913.9 L825.2 916.1 L825.5 930.0 L825.8 916.9 L826.0 930.9 L826.2 927.1 L826.5 921.3 L826.8 926.9 L827.0 924.3 L827.2 916.3 L827.5 896.6 L827.8 894.2 L828.0 903.3 L828.2 901.6 L828.5 905.5 L828.8 905.4 L829.0 914.4 L829.2 902.9 L829.5 916.8 L829.8 910.8 L830.0 928.0 L830.2 917.1 L830.5 920.3 L830.8 914.9 L831.0 938.4 L831.2 922.0 L831.5 922.1 L831.8 927.2 L832.0 918.0 L832.2 910.9 L832.5 920.0 L832.8 919.4 L833.0 917.4 L833.2 921.8 L833.5 890.8 L833.8 867.1 L834.0 847.2 L834.2 818.8 L834.5 778.3 L834.8 750.0 L835.0 716.1 L835.2 685.0 L835.5 711.3 L835.8 730.6 L836.0 748.0 L836.2 763.9 L836.5 776.7 L836.8 790.7 L837.0 798.9 L837.2 807.0 L837.5 804.4 L837.8 826.2 L838.0 853.6 L838.2 830.6 L838.5 843.6 L838.8 852.7 L839.0 861.3 L839.2 848.6 L839.5 857.7 L839.8 862.0 L840.0 864.9 L840.2 867.8 L840.5 865.6 L840.8 857.7 L841.0 871.3 L841.2 856.2 L841.5 854.2 L841.8 829.2 L842.0 838.8 L842.2 851.0 L842.5 843.9 L842.8 854.4 L843.0 859.0 L843.2 860.5 L843.5 871.0 L843.8 880.6 L844.0 853.8 L844.2 872.3 L844.5 883.8 L844.8 876.1 L845.0 876.8 L845.2 901.1 L845.5 895.1 L845.8 896.0 L846.0 907.8 L846.2 901.7 L846.5 914.4 L846.8 912.0 L847.0 912.5 L847.2 909.7 L847.5 911.4 L847.8 917.1 L848.0 912.6 L848.2 925.6 L848.5 900.0 L848.8 915.3 L849.0 913.9 L849.2 901.3 L849.5 890.1 L849.8 881.7 L850.0 880.0 L850.2 880.8 L850.5 858.1 L850.8 868.4 L851.0 870.4 L851.2 871.2 L851.5 874.3 L851.8 870.3 L852.0 885.8 L852.2 897.6 L852.5 886.4 L852.8 886.3 L853.0 905.5 L853.2 892.5 L853.5 897.4 L853.8 901.1 L854.0 900.7 L854.2 899.3 L854.5 868.1 L854.8 830.3 L855.0 807.7 L855.2 777.3 L855.5 744.4 L855.8 713.1 L856.0 682.6 L856.2 655.5 L856.5 684.6 L856.8 708.8 L857.0 727.7 L857.2 744.6 L857.5 756.6 L857.8 771.9 L858.0 781.4 L858.2 790.9 L858.5 797.8 L858.8 804.8 L859.0 806.8 L859.2 808.4 L859.5 812.0 L859.8 813.1 L860.0 807.8 L860.2 822.5 L860.5 830.2 L860.8 846.8 L861.0 843.2 L861.2 853.0 L861.5 846.8 L861.8 853.3 L862.0 867.3 L862.2 861.1 L862.5 859.8 L862.8 871.7 L863.0 879.9 L863.2 858.3 L863.5 873.7 L863.8 874.8 L864.0 863.6 L864.2 889.2 L864.5 884.1 L864.8 899.8 L865.0 884.5 L865.2 887.3 L865.5 895.2 L865.8 898.6 L866.0 897.2 L866.2 897.9 L866.5 882.3 L866.8 890.9 L867.0 885.8 L867.2 882.2 L867.5 887.2 L867.8 877.5 L868.0 886.0 L868.2 880.8 L868.5 899.5 L868.8 894.3 L869.0 888.9 L869.2 906.9 L869.5 906.5 L869.8 893.9 L870.0 908.6 L870.2 903.2 L870.5 906.0 L870.8 915.0 L871.0 919.8 L871.2 902.1 L871.5 916.6 L871.8 913.4 L872.0 919.8 L872.2 915.7 L872.5 924.5 L872.8 926.3 L873.0 924.1 L873.2 922.2 L873.5 922.4 L873.8 922.3 L874.0 916.8 L874.2 920.3 L874.5 910.6 L874.8 915.7 L875.0 904.7 L875.2 896.4 L875.5 889.7 L875.8 915.1 L876.0 891.5 L876.2 914.5 L876.5 897.0 L876.8 904.6 L877.0 904.9 L877.2 914.0 L877.5 902.0 L877.8 904.6 L878.0 914.7 L878.2 914.8 L878.5 907.7 L878.8 909.7 L879.0 909.7 L879.2 902.0 L879.5 882.5 L879.8 861.1 L880.0 841.2 L880.2 822.2 L880.5 812.9 L880.8 799.4 L881.0 779.7 L881.2 793.2 L881.5 804.8 L881.8 816.2 L882.0 833.1 L882.2 826.0 L882.5 838.8 L882.8 812.7 L883.0 819.9 L883.2 825.2 L883.5 840.8 L883.8 844.2 L884.0 832.0 L884.2 842.7 L884.5 842.9 L884.8 860.2 L885.0 862.1 L885.2 853.6 L885.5 856.0 L885.8 869.0 L886.0 866.5 L886.2 855.0 L886.5 867.8 L886.8 862.2 L887.0 849.3 L887.2 855.6 L887.5 854.5 L887.8 856.9 L888.0 836.3 L888.2 854.9 L888.5 858.6 L888.8 856.3 L889.0 872.2 L889.2 859.1 L889.5 876.9 L889.8 870.8 L890.0 880.2 L890.2 882.7 L890.5 885.4 L890.8 901.0 L891.0 896.1 L891.2 894.4 L891.5 877.6 L891.8 886.5 L892.0 887.9 L892.2 897.9 L892.5 886.2 L892.8 881.7 L893.0 885.0 L893.2 870.4 L893.5 899.2 L893.8 881.8 L894.0 858.6 L894.2 850.8 L894.5 826.3 L894.8 807.6 L895.0 788.9 L895.2 772.1 L895.5 751.9 L895.8 762.5 L896.0 770.5 L896.2 781.7 L896.5 792.4 L896.8 800.3 L897.0 817.3 L897.2 814.3 L897.5 826.7 L897.8 827.7 L898.0 835.5 L898.2 834.6 L898.5 839.0 L898.8 857.8 L899.0 863.1 L899.2 846.2 L899.5 865.3 L899.8 875.0 L900.0 880.7 L900.2 869.3 L900.5 873.4 L900.8 882.9 L901.0 874.5 L901.2 874.5 L901.5 853.7 L901.8 858.3 L902.0 857.7 L902.2 868.1 L902.5 861.9 L902.8 857.6 L903.0 863.1 L903.2 859.1 L903.5 870.8 L903.8 865.0 L904.0 869.3 L904.2 879.2 L904.5 866.1 L904.8 878.2 L905.0 878.6 L905.2 889.3 L905.5 892.4 L905.8 890.3 L906.0 895.2 L906.2 886.7 L906.5 891.7 L906.8 886.3 L907.0 890.3 L907.2 896.0 L907.5 876.7 L907.8 880.9 L908.0 876.3 L908.2 862.7 L908.5 857.1 L908.8 845.0 L909.0 845.0 L909.2 845.0 L909.5 845.0 L909.8 855.0 L910.0 848.8 L910.2 852.1 L910.5 848.9 L910.8 845.0 L911.0 845.0 L911.2 846.5 L911.5 862.1 L911.8 847.0 L912.0 864.9 L912.2 870.6 L912.5 869.4 L912.8 867.4 L913.0 868.2 L913.2 864.0 L913.5 884.3 L913.8 882.1 L914.0 867.0 L914.2 865.8 L914.5 885.9 L914.8 883.9 L915.0 892.3 L915.2 888.8 L915.5 891.8 L915.8 885.7 L916.0 886.5 L916.2 868.4 L916.5 872.6 L916.8 869.9 L917.0 859.9 L917.2 866.3 L917.5 879.5 L917.8 874.0 L918.0 861.5 L918.2 877.7 L918.5 875.8 L918.8 881.9 L919.0 881.2 L919.2 880.2 L919.5 902.3 L919.8 893.4 L920.0 891.7 L920.2 890.6 L920.5 880.2 L920.8 876.8 L921.0 888.7 L921.2 890.5 L921.5 891.7 L921.8 888.1 L922.0 901.9 L922.2 900.2 L922.5 895.5 L922.8 896.3 L923.0 910.8 L923.2 897.3 L923.5 912.3 L923.8 901.7 L924.0 897.1 L924.2 911.6 L924.5 886.9 L924.8 880.2 L925.0 871.6 L925.2 845.8 L925.5 839.9 L925.8 845.2 L926.0 856.2 L926.2 856.8 L926.5 849.9 L926.8 839.9 L927.0 839.9 L927.2 851.5 L927.5 859.2 L927.8 858.7 L928.0 870.1 L928.2 874.6 L928.5 887.3 L928.8 890.1 L929.0 889.0 L929.2 900.8 L929.5 884.6 L929.8 898.3 L930.0 901.1 L930.2 888.1 L930.5 899.0 L930.8 880.0 L931.0 885.7 L931.2 867.0 L931.5 885.9 L931.8 889.4 L932.0 894.9 L932.2 898.0 L932.5 891.0 L932.8 902.1 L933.0 893.6 L933.2 898.1 L933.5 889.7 L933.8 911.1 L934.0 892.3 L934.2 892.2 L934.5 887.7 L934.8 889.3 L935.0 868.2 L935.2 879.6 L935.5 868.3 L935.8 871.3 L936.0 864.2 L936.2 867.5 L936.5 866.5 L936.8 885.5 L937.0 883.9 L937.2 892.5 L937.5 882.5 L937.8 893.5 L938.0 895.0 L938.2 879.5 L938.5 881.1 L938.8 873.9 L939.0 874.6 L939.2 864.9 L939.5 863.8 L939.8 879.3 L940.0 876.2 L940.2 884.6 L940.5 887.6 L940.8 890.4 L941.0 900.4 L941.2 903.6 L941.5 892.2 L941.8 891.6 L942.0 907.2 L942.2 897.0 L942.5 907.0 L942.8 915.7 L943.0 917.9 L943.2 915.5 L943.5 919.0 L943.8 919.4 L944.0 918.3 L944.2 924.9 L944.5 913.5 L944.8 924.4 L945.0 924.7 L945.2 912.3 L945.5 910.8 L945.8 896.7 L946.0 899.0 L946.2 896.1 L946.5 878.5 L946.8 878.6 L947.0 878.0 L947.2 885.2 L947.5 882.6 L947.8 904.8 L948.0 892.1 L948.2 911.5 L948.5 896.4 L948.8 915.9 L949.0 903.5 L949.2 897.9 L949.5 915.7 L949.8 922.5 L950.0 907.2 L950.2 920.3 L950.5 925.7 L950.8 911.6 L951.0 933.2 L951.2 926.3 L951.5 925.4 L951.8 922.5 L952.0 929.8 L952.2 914.1 L952.5 914.7 L952.8 922.6 L953.0 923.3 L953.2 930.0 L953.5 918.5 L953.8 925.1 L954.0 916.2 L954.2 914.2 L954.5 916.4 L954.8 924.6 L955.0 917.1 L955.2 900.2 L955.5 904.8 L955.8 901.5 L956.0 922.3 L956.2 910.7 L956.5 913.3 L956.8 923.8 L957.0 916.7 L957.2 909.6 L957.5 911.5 L957.8 917.4 L958.0 914.3 L958.2 911.1 L958.5 922.9 L958.8 915.8 L959.0 913.0 L959.2 922.8 L959.5 910.3 L959.8 918.6 L960.0 912.1 L960.2 912.8 L960.5 915.3 L960.8 918.2 L961.0 918.6 L961.2 911.3 L961.5 906.4 L961.8 896.2 L962.0 901.6 L962.2 895.1 L962.5 887.2 L962.8 899.8 L963.0 902.7 L963.2 898.8 L963.5 908.7 L963.8 908.6 L964.0 906.5 L964.2 911.7 L964.5 916.1 L964.8 917.5 L965.0 907.8 L965.2 901.0 L965.5 903.1 L965.8 899.2 L966.0 906.2 L966.2 915.6 L966.5 922.5 L966.8 917.4 L967.0 922.0 L967.2 925.6 L967.5 918.5 L967.8 928.3 L968.0 921.5 L968.2 922.3 L968.5 935.1 L968.8 926.9 L969.0 917.0 L969.2 921.0 L969.5 925.0 L969.8 926.7 L970.0 922.9 L970.2 916.5 L970.5 910.4 L970.8 912.1 L971.0 913.3 L971.2 913.1 L971.5 912.0 L971.8 926.9 L972.0 922.3 L972.2 918.6 L972.5 912.9 L972.8 914.2 L973.0 925.3 L973.2 921.4 L973.5 927.1 L973.8 926.8 L974.0 923.6 L974.2 928.5 L974.5 931.0 L974.8 933.0 L975.0 936.7 L975.2 928.6 L975.5 925.4 L975.8 917.1 L976.0 918.5 L976.2 911.4 L976.5 894.9 L976.8 893.6 L977.0 885.5 L977.2 898.8 L977.5 903.7 L977.8 908.6 L978.0 901.5 L978.2 918.8 L978.5 925.6 L978.8 923.1 L979.0 914.4 L979.2 923.7 L979.5 922.2 L979.8 926.0 L980.0 923.6 L980.2 920.3 L980.5 924.6 L980.8 901.3 L981.0 907.7 L981.2 896.5 L981.5 909.6 L981.8 900.5 L982.0 913.8 L982.2 916.4 L982.5 909.4 L982.8 906.1 L983.0 906.6 L983.2 910.7 L983.5 921.7 L983.8 918.2 L984.0 927.8 L984.2 929.8 L984.5 928.3 L984.8 930.9 L985.0 927.7 L985.2 943.3 L985.5 932.6 L985.8 911.2 L986.0 865.5 L986.2 835.3 L986.5 823.7 L986.8 780.3 L987.0 749.4 L987.2 717.8 L987.5 686.0 L987.8 710.3 L988.0 729.6 L988.2 747.8 L988.5 763.0 L988.8 774.8 L989.0 788.9 L989.2 798.0 L989.5 808.1 L989.8 823.2 L990.0 819.3 L990.2 820.8 L990.5 830.9 L990.8 844.8 L991.0 852.9 L991.2 838.9 L991.5 855.1 L991.8 842.6 L992.0 872.2 L992.2 871.6 L992.5 877.4 L992.8 862.5 L993.0 869.2 L993.2 886.1 L993.5 896.2 L993.8 875.2 L994.0 881.1 L994.2 885.9 L994.5 887.3 L994.8 870.4 L995.0 872.3 L995.2 869.3 L995.5 872.2 L995.8 878.8 L996.0 882.8 L996.2 876.3 L996.5 883.2 L996.8 883.6 L997.0 879.6 L997.2 899.8 L997.5 880.5 L997.8 887.3 L998.0 898.5 L998.2 895.0 L998.5 894.5 L998.8 899.3 L999.0 918.9 L999.2 914.3 L999.5 912.1 L999.8 903.4 L1000.0 912.2 L1000.2 911.3 L1000.5 902.2 L1000.8 898.9 L1001.0 895.8 L1001.2 887.6 L1001.5 897.7 L1001.8 880.2 L1002.0 883.7 L1002.2 893.0 L1002.5 898.4 L1002.8 902.5 L1003.0 895.7 L1003.2 899.8 L1003.5 899.8 L1003.8 894.8 L1004.0 920.8 L1004.2 915.3 L1004.5 916.5 L1004.8 907.4 L1005.0 915.1 L1005.2 919.7 L1005.5 913.0 L1005.8 913.2 L1006.0 905.7 L1006.2 915.5 L1006.5 919.8 L1006.8 921.5 L1007.0 923.5 L1007.2 918.8 L1007.5 919.4 L1007.8 927.8 L1008.0 928.0 L1008.2 920.2 L1008.5 927.1 L1008.8 924.8 L1009.0 928.9 L1009.2 922.8 L1009.5 928.1 L1009.8 921.5 L1010.0 908.3 L1010.2 908.3 L1010.5 916.9 L1010.8 927.1 L1011.0 921.4 L1011.2 917.5 L1011.5 925.2 L1011.8 921.0 L1012.0 926.9 L1012.2 933.0 L1012.5 933.0 L1012.8 929.1 L1013.0 915.7 L1013.2 926.9 L1013.5 931.9 L1013.8 929.4 L1014.0 928.2 L1014.2 901.2 L1014.5 870.0 L1014.8 840.2 L1015.0 807.3 L1015.2 776.2 L1015.5 748.3 L1015.8 716.0 L1016.0 684.2 L1016.2 707.1 L1016.5 723.8 L1016.8 737.0 L1017.0 746.8 L1017.2 758.0 L1017.5 759.7 L1017.8 768.2 L1018.0 779.3 L1018.2 792.1 L1018.5 802.0 L1018.8 793.1 L1019.0 824.7 L1019.2 823.8 L1019.5 834.7 L1019.8 846.7 L1020.0 834.5 L1020.2 847.3 L1020.5 858.8 L1020.8 864.3 L1021.0 871.2 L1021.2 876.9 L1021.5 864.5 L1021.8 876.3 L1022.0 878.4 L1022.2 872.4 L1022.5 878.7 L1022.8 874.0 L1023.0 884.5 L1023.2 883.7 L1023.5 876.0 L1023.8 889.4 L1024.0 882.1 L1024.2 885.3 L1024.5 890.1 L1024.8 903.7 L1025.0 904.8 L1025.2 900.2 L1025.5 897.7 L1025.8 878.9 L1026.0 886.8 L1026.2 886.5 L1026.5 876.2 L1026.8 876.8 L1027.0 891.5 L1027.2 880.3 L1027.5 880.8 L1027.8 893.6 L1028.0 885.4 L1028.2 903.0 L1028.5 898.2 L1028.8 895.5 L1029.0 894.5 L1029.2 888.7 L1029.5 899.2 L1029.8 905.0 L1030.0 899.3 L1030.2 900.8 L1030.5 900.3 L1030.8 906.5 L1031.0 909.7 L1031.2 912.3 L1031.5 907.1 L1031.8 913.0 L1032.0 912.1 L1032.2 899.3 L1032.5 909.3 L1032.8 901.8 L1033.0 894.9 L1033.2 903.1 L1033.5 876.2 L1033.8 867.7 L1034.0 838.6 L1034.2 842.2 L1034.5 825.5 L1034.8 793.9 L1035.0 776.9 L1035.2 760.1 L1035.5 777.4 L1035.8 791.4 L1036.0 805.3 L1036.2 834.4 L1036.5 815.8 L1036.8 832.6 L1037.0 826.3 L1037.2 841.9 L1037.5 853.1 L1037.8 859.6 L1038.0 862.9 L1038.2 861.3 L1038.5 872.3 L1038.8 852.6 L1039.0 875.6 L1039.2 887.2 L1039.5 879.1 L1039.8 871.5 L1040.0 875.1 L1040.2 874.3 L1040.5 871.7 L1040.8 870.9 L1041.0 868.6 L1041.2 856.7 L1041.5 854.1 L1041.8 864.9 L1042.0 852.9 L1042.2 865.9 L1042.5 877.2 L1042.8 875.4 L1043.0 872.8 L1043.2 898.7 L1043.5 887.8 L1043.8 874.4 L1044.0 890.6 L1044.2 904.9 L1044.5 902.0 L1044.8 905.4 L1045.0 890.2 L1045.2 911.8 L1045.5 911.1 L1045.8 911.6 L1046.0 916.7 L1046.2 930.2 L1046.5 913.7 L1046.8 908.7 L1047.0 918.0 L1047.2 914.4 L1047.5 912.6 L1047.8 915.5 L1048.0 923.7 L1048.2 901.3 L1048.5 903.7 L1048.8 900.2 L1049.0 899.8 L1049.2 900.0 L1049.5 907.4 L1049.8 905.3 L1050.0 907.3 L1050.2 919.9 L1050.5 913.1 L1050.8 924.5 L1051.0 919.5 L1051.2 924.7 L1051.5 919.1 L1051.8 913.8 L1052.0 919.2 L1052.2 922.9 L1052.5 919.5 L1052.8 914.9 L1053.0 892.5 L1053.2 852.7 L1053.5 830.2 L1053.8 806.3 L1054.0 779.0 L1054.2 753.9 L1054.5 726.9 L1054.8 704.4 L1055.0 724.7 L1055.2 744.2 L1055.5 763.1 L1055.8 779.7 L1056.0 795.8 L1056.2 808.1 L1056.5 826.3 L1056.8 841.1 L1057.0 833.4 L1057.2 842.0 L1057.5 832.5 L1057.8 848.5 L1058.0 856.2 L1058.2 854.2 L1058.5 853.2 L1058.8 859.0 L1059.0 865.8 L1059.2 861.9 L1059.5 875.4 L1059.8 878.7 L1060.0 886.0 L1060.2 888.3 L1060.5 878.9 L1060.8 890.4 L1061.0 912.0 L1061.2 890.4 L1061.5 912.7 L1061.8 903.8 L1062.0 895.6 L1062.2 902.2 L1062.5 897.7 L1062.8 894.5 L1063.0 898.0 L1063.2 907.0 L1063.5 898.6 L1063.8 907.5 L1064.0 917.9 L1064.2 908.5 L1064.5 904.1 L1064.8 908.8 L1065.0 911.2 L1065.2 900.0 L1065.5 906.1 L1065.8 900.3 L1066.0 903.7 L1066.2 895.6 L1066.5 909.9 L1066.8 900.5 L1067.0 895.0 L1067.2 909.0 L1067.5 901.0 L1067.8 914.6 L1068.0 906.1 L1068.2 906.8 L1068.5 916.2 L1068.8 924.9 L1069.0 914.8 L1069.2 918.2 L1069.5 919.4 L1069.8 917.5 L1070.0 916.3 L1070.2 916.1 L1070.5 923.7 L1070.8 935.3 L1071.0 928.0 L1071.2 930.3 L1071.5 933.9 L1071.8 930.4 L1072.0 936.8 L1072.2 939.7 L1072.5 934.1 L1072.8 943.9 L1073.0 929.6 L1073.2 930.2 L1073.5 917.0 L1073.8 913.1 L1074.0 908.4 L1074.2 906.2 L1074.5 909.7 L1074.8 902.3 L1075.0 903.2 L1075.2 899.4 L1075.5 905.5 L1075.8 881.0 L1076.0 860.6 L1076.2 850.7 L1076.5 824.1 L1076.8 808.2 L1077.0 787.5 L1077.2 765.3 L1077.5 746.2 L1077.8 762.2 L1078.0 776.2 L1078.2 785.1 L1078.5 793.5 L1078.8 799.8 L1079.0 804.1 L1079.2 807.3 L1079.5 803.1 L1079.8 827.0 L1080.0 826.4 L1080.2 849.1 L1080.5 853.7 L1080.8 849.5 L1081.0 863.9 L1081.2 867.8 L1081.5 872.0 L1081.8 883.6 L1082.0 870.7 L1082.2 885.9 L1082.5 887.4 L1082.8 886.7 L1083.0 880.5 L1083.2 885.5 L1083.5 867.6 L1083.8 871.4 L1084.0 864.9 L1084.2 880.8 L1084.5 883.4 L1084.8 886.7 L1085.0 882.3 L1085.2 895.9 L1085.5 885.1 L1085.8 897.0 L1086.0 893.5 L1086.2 902.2 L1086.5 899.6 L1086.8 913.7 L1087.0 905.2 L1087.2 884.5 L1087.5 885.2 L1087.8 860.9 L1088.0 864.9 L1088.2 842.5 L1088.5 843.9 L1088.8 826.8 L1089.0 826.8 L1089.2 840.7 L1089.5 838.5 L1089.8 847.2 L1090.0 865.2 L1090.2 848.6 L1090.5 847.1 L1090.8 845.6 L1091.0 846.2 L1091.2 858.7 L1091.5 870.8 L1091.8 873.7 L1092.0 885.9 L1092.2 877.4 L1092.5 881.1 L1092.8 886.9 L1093.0 895.9 L1093.2 889.8 L1093.5 897.1 L1093.8 887.2 L1094.0 900.7 L1094.2 897.9 L1094.5 892.7 L1094.8 895.6 L1095.0 891.8 L1095.2 885.5 L1095.5 898.5 L1095.8 874.5 L1096.0 891.8 L1096.2 892.9 L1096.5 903.8 L1096.8 897.1 L1097.0 903.4 L1097.2 900.9 L1097.5 912.5 L1097.8 903.9 L1098.0 915.9 L1098.2 905.4 L1098.5 911.0 L1098.8 909.8 L1099.0 910.4 L1099.2 905.0 L1099.5 903.7 L1099.8 913.0 L1100.0 921.6 L1100.2 896.1 L1100.5 905.9 L1100.8 891.3 L1101.0 881.0 L1101.2 876.5 L1101.5 851.8 L1101.8 841.2 L1102.0 832.1 L1102.2 837.9 L1102.5 832.1 L1102.8 843.9 L1103.0 846.0 L1103.2 849.9 L1103.5 854.2 L1103.8 859.1 L1104.0 867.7 L1104.2 880.5 L1104.5 873.7 L1104.8 893.3 L1105.0 881.1 L1105.2 889.2 L1105.5 879.9 L1105.8 909.8 L1106.0 884.3 L1106.2 903.7 L1106.5 915.2 L1106.8 907.3 L1107.0 911.9 L1107.2 915.0 L1107.5 906.1 L1107.8 925.0 L1108.0 921.9 L1108.2 924.5 L1108.5 930.7 L1108.8 925.9 L1109.0 923.9 L1109.2 935.0 L1109.5 930.1 L1109.8 928.3 L1110.0 929.7 L1110.2 939.9 L1110.5 928.1 L1110.8 927.6 L1111.0 915.3 L1111.2 919.3 L1111.5 904.3 L1111.8 909.7 L1112.0 888.6 L1112.2 888.2 L1112.5 861.1 L1112.8 853.2 L1113.0 863.0 L1113.2 838.4 L1113.5 836.8 L1113.8 861.3 L1114.0 863.9 L1114.2 863.2 L1114.5 867.1 L1114.8 881.1 L1115.0 880.2 L1115.2 886.0 L1115.5 889.1 L1115.8 899.5 L1116.0 893.6 L1116.2 894.7 L1116.5 909.0 L1116.8 891.7 L1117.0 893.2 L1117.2 899.8 L1117.5 886.9 L1117.8 905.4 L1118.0 904.6 L1118.2 903.3 L1118.5 906.7 L1118.8 892.1 L1119.0 906.8 L1119.2 910.4 L1119.5 908.4 L1119.8 903.6 L1120.0 914.9 L1120.2 917.9 L1120.5 915.8 L1120.8 912.1 L1121.0 917.6 L1121.2 910.1 L1121.5 920.0 L1121.8 922.5 L1122.0 923.0 L1122.2 914.9 L1122.5 929.7 L1122.8 924.3 L1123.0 929.1 L1123.2 934.3 L1123.5 936.9 L1123.8 933.5 L1124.0 936.7 L1124.2 937.3 L1124.5 937.1 L1124.8 943.3 L1125.0 942.2 L1125.2 941.2 L1125.5 933.8 L1125.8 924.5 L1126.0 921.5 L1126.2 909.4 L1126.5 915.2 L1126.8 909.5 L1127.0 907.3 L1127.2 860.9 L1127.5 835.6 L1127.8 796.1 L1128.0 757.9 L1128.2 715.9 L1128.5 673.6 L1128.8 632.0 L1129.0 591.5 L1129.2 619.9 L1129.5 648.3 L1129.8 669.4 L1130.0 692.7 L1130.2 709.3 L1130.5 727.9 L1130.8 743.3 L1131.0 757.8 L1131.2 767.3 L1131.5 772.9 L1131.8 779.9 L1132.0 780.6 L1132.2 785.0 L1132.5 785.4 L1132.8 791.5 L1133.0 795.0 L1133.2 800.6 L1133.5 806.4 L1133.8 780.9 L1134.0 822.7 L1134.2 835.8 L1134.5 819.6 L1134.8 842.1 L1135.0 842.9 L1135.2 842.8 L1135.5 845.5 L1135.8 849.8 L1136.0 853.6 L1136.2 862.0 L1136.5 854.6 L1136.8 863.9 L1137.0 875.5 L1137.2 876.7 L1137.5 889.9 L1137.8 875.7 L1138.0 882.5 L1138.2 869.9 L1138.5 890.6 L1138.8 876.7 L1139.0 893.2 L1139.2 895.7 L1139.5 887.0 L1139.8 875.7 L1140.0 866.8 L1140.2 878.6 L1140.5 866.2 L1140.8 882.4 L1141.0 885.2 L1141.2 885.4 L1141.5 872.0 L1141.8 886.7 L1142.0 887.7 L1142.2 899.7 L1142.5 889.3 L1142.8 893.4 L1143.0 886.0 L1143.2 905.2 L1143.5 904.4 L1143.8 909.3 L1144.0 911.1 L1144.2 906.7 L1144.5 917.8 L1144.8 908.3 L1145.0 917.7 L1145.2 924.4 L1145.5 924.0 L1145.8 927.1 L1146.0 928.0 L1146.2 872.5 L1146.5 835.1 L1146.8 797.7 L1147.0 755.7 L1147.2 713.3 L1147.5 673.4 L1147.8 633.8 L1148.0 596.3 L1148.2 624.6 L1148.5 652.6 L1148.8 676.2 L1149.0 697.0 L1149.2 714.6 L1149.5 730.7 L1149.8 746.1 L1150.0 757.8 L1150.2 767.7 L1150.5 777.8 L1150.8 788.9 L1151.0 798.1 L1151.2 804.3 L1151.5 808.2 L1151.8 825.4 L1152.0 839.8 L1152.2 833.2 L1152.5 828.3 L1152.8 843.3 L1153.0 858.2 L1153.2 846.7 L1153.5 853.6 L1153.8 856.7 L1154.0 856.1 L1154.2 850.4 L1154.5 852.2 L1154.8 856.4 L1155.0 850.1 L1155.2 841.6 L1155.5 833.5 L1155.8 859.6 L1156.0 856.9 L1156.2 867.9 L1156.5 864.4 L1156.8 876.7 L1157.0 897.6 L1157.2 873.1 L1157.5 887.6 L1157.8 894.6 L1158.0 898.4 L1158.2 898.7 L1158.5 900.5 L1158.8 894.2 L1159.0 894.9 L1159.2 899.6 L1159.5 899.3 L1159.8 908.8 L1160.0 901.7 L1160.2 909.2 L1160.5 906.4 L1160.8 905.6 L1161.0 907.9 L1161.2 896.2 L1161.5 896.2 L1161.8 899.1 L1162.0 888.1 L1162.2 891.5 L1162.5 911.1 L1162.8 918.4 L1163.0 909.9 L1163.2 905.3 L1163.5 875.2 L1163.8 850.7 L1164.0 828.0 L1164.2 800.5 L1164.5 776.2 L1164.8 748.7 L1165.0 720.7 L1165.2 695.0 L1165.5 719.6 L1165.8 740.1 L1166.0 757.8 L1166.2 776.2 L1166.5 788.1 L1166.8 796.3 L1167.0 803.9 L1167.2 807.7 L1167.5 799.9 L1167.8 816.5 L1168.0 807.2 L1168.2 829.0 L1168.5 834.3 L1168.8 836.8 L1169.0 840.6 L1169.2 841.5 L1169.5 861.5 L1169.8 851.4 L1170.0 875.0 L1170.2 876.9 L1170.5 891.5 L1170.8 873.1 L1171.0 870.2 L1171.2 892.1 L1171.5 888.2 L1171.8 891.3 L1172.0 902.2 L1172.2 894.5 L1172.5 897.3 L1172.8 904.6 L1173.0 910.9 L1173.2 909.1 L1173.5 908.0 L1173.8 922.3 L1174.0 918.2 L1174.2 916.0 L1174.5 935.2 L1174.8 921.1 L1175.0 917.3 L1175.2 929.8 L1175.5 915.9 L1175.8 923.3 L1176.0 916.9 L1176.2 920.8 L1176.5 923.9 L1176.8 930.6 L1177.0 912.3 L1177.2 933.2 L1177.5 930.4 L1177.8 924.2 L1178.0 932.5 L1178.2 935.8 L1178.5 947.4 L1178.8 944.5 L1179.0 947.9 L1179.2 948.2 L1179.5 940.1 L1179.8 908.6 L1180.0 891.9 L1180.2 868.3 L1180.5 831.8 L1180.8 806.7 L1181.0 784.3 L1181.2 757.3 L1181.5 732.3 L1181.8 752.7 L1182.0 770.7 L1182.2 786.1 L1182.5 799.2 L1182.8 796.3 L1183.0 824.4 L1183.2 810.4 L1183.5 830.4 L1183.8 825.7 L1184.0 834.6 L1184.2 833.7 L1184.5 830.0 L1184.8 855.9 L1185.0 849.4 L1185.2 867.4 L1185.5 869.3 L1185.8 879.1 L1186.0 878.3 L1186.2 895.5 L1186.5 887.2 L1186.8 884.0 L1187.0 886.2 L1187.2 904.5 L1187.5 904.8 L1187.8 901.5 L1188.0 889.5 L1188.2 906.9 L1188.5 907.6 L1188.8 908.5 L1189.0 908.2 L1189.2 915.5 L1189.5 907.1 L1189.8 907.6 L1190.0 902.2 L1190.2 911.5 L1190.5 905.7 L1190.8 900.5 L1191.0 911.9 L1191.2 915.2 L1191.5 934.9 L1191.8 916.0 L1192.0 915.9 L1192.2 922.0 L1192.5 927.4 L1192.8 925.9 L1193.0 914.0 L1193.2 935.0 L1193.5 931.7 L1193.8 923.8 L1194.0 929.5 L1194.2 937.9 L1194.5 925.8 L1194.8 921.8 L1195.0 928.0 L1195.2 922.4 L1195.5 922.7 L1195.8 934.3 L1196.0 923.4 L1196.2 911.0 L1196.5 910.4 L1196.8 922.9 L1197.0 920.7 L1197.2 908.9 L1197.5 904.1 L1197.8 891.0 L1198.0 866.1 L1198.2 826.5 L1198.5 811.8 L1198.8 795.5 L1199.0 771.7 L1199.2 746.6 L1199.5 723.0 L1199.8 742.9 L1200.0 760.7 L1200.2 775.4 L1200.5 791.1 L1200.8 801.0 L1201.0 814.1 L1201.2 811.4 L1201.5 815.5 L1201.8 815.7 L1202.0 827.0 L1202.2 825.2 L1202.5 820.0 L1202.8 839.4 L1203.0 845.3 L1203.2 872.6 L1203.5 865.7 L1203.8 855.0 L1204.0 874.1 L1204.2 881.9 L1204.5 872.1 L1204.8 889.7 L1205.0 877.0 L1205.2 886.3 L1205.5 892.1 L1205.8 903.6 L1206.0 883.3 L1206.2 906.5 L1206.5 905.1 L1206.8 895.2 L1207.0 908.0 L1207.2 899.9 L1207.5 904.8 L1207.8 905.8 L1208.0 911.6 L1208.2 909.0 L1208.5 905.2 L1208.8 909.3 L1209.0 897.6 L1209.2 897.9 L1209.5 894.2 L1209.8 894.3 L1210.0 890.4 L1210.2 889.9 L1210.5 892.8 L1210.8 896.7 L1211.0 901.0 L1211.2 911.9 L1211.5 919.6 L1211.8 911.9 L1212.0 908.6 L1212.2 922.1 L1212.5 928.2 L1212.8 925.6 L1213.0 922.7 L1213.2 917.7 L1213.5 927.7 L1213.8 933.6 L1214.0 926.2 L1214.2 925.9 L1214.5 928.2 L1214.8 923.4 L1215.0 932.5 L1215.2 925.7 L1215.5 898.9 L1215.8 891.3 L1216.0 866.6 L1216.2 830.2 L1216.5 781.9 L1216.8 786.9 L1217.0 759.7 L1217.2 732.3 L1217.5 744.0 L1217.8 756.1 L1218.0 764.3 L1218.2 771.1 L1218.5 785.3 L1218.8 795.8 L1219.0 807.1 L1219.2 813.2 L1219.5 812.6 L1219.8 841.4 L1220.0 845.4 L1220.2 851.3 L1220.5 863.5 L1220.8 861.7 L1221.0 865.6 L1221.2 863.0 L1221.5 867.3 L1221.8 865.8 L1222.0 859.4 L1222.2 852.4 L1222.5 848.2 L1222.8 856.0 L1223.0 869.2 L1223.2 876.1 L1223.5 887.0 L1223.8 881.7 L1224.0 886.8 L1224.2 879.0 L1224.5 890.0 L1224.8 888.6 L1225.0 885.9 L1225.2 907.8 L1225.5 897.6 L1225.8 889.1 L1226.0 883.6 L1226.2 889.7 L1226.5 872.3 L1226.8 868.1 L1227.0 875.5 L1227.2 879.0 L1227.5 894.2 L1227.8 882.6 L1228.0 898.6 L1228.2 909.1 L1228.5 899.9 L1228.8 899.1 L1229.0 906.8 L1229.2 913.3 L1229.5 911.3 L1229.8 905.6 L1230.0 920.4 L1230.2 897.8 L1230.5 899.3 L1230.8 905.8 L1231.0 899.6 L1231.2 909.8 L1231.5 916.8 L1231.8 862.2 L1232.0 817.6 L1232.2 778.8 L1232.5 732.5 L1232.8 685.9 L1233.0 641.3 L1233.2 594.4 L1233.5 549.2 L1233.8 586.2 L1234.0 620.5 L1234.2 647.5 L1234.5 673.7 L1234.8 694.8 L1235.0 716.7 L1235.2 733.1 L1235.5 747.7 L1235.8 761.4 L1236.0 775.7 L1236.2 785.4 L1236.5 792.1 L1236.8 802.2 L1237.0 808.1 L1237.2 811.5 L1237.5 800.2 L1237.8 816.2 L1238.0 816.0 L1238.2 832.9 L1238.5 818.1 L1238.8 823.7 L1239.0 844.3 L1239.2 836.3 L1239.5 839.0 L1239.8 850.4 L1240.0 852.3 L1240.2 835.7 L1240.5 865.3 L1240.8 866.7 L1241.0 869.2 L1241.2 874.5 L1241.5 889.8 L1241.8 877.8 L1242.0 878.5 L1242.2 876.4 L1242.5 894.6 L1242.8 901.8 L1243.0 892.1 L1243.2 902.9 L1243.5 898.0 L1243.8 901.0 L1244.0 899.8 L1244.2 901.3 L1244.5 891.5 L1244.8 897.3 L1245.0 872.8 L1245.2 878.3 L1245.5 885.0 L1245.8 892.3 L1246.0 894.2 L1246.2 900.9 L1246.5 906.1 L1246.8 897.1 L1247.0 901.0 L1247.2 917.7 L1247.5 911.8 L1247.8 917.2 L1248.0 914.1 L1248.2 925.8 L1248.5 910.8 L1248.8 924.2 L1249.0 913.2 L1249.2 926.4 L1249.5 915.3 L1249.8 922.8 L1250.0 908.9 L1250.2 915.4 L1250.5 918.0 L1250.8 915.5 L1251.0 909.7 L1251.2 899.3 L1251.5 902.6 L1251.8 909.0 L1252.0 905.6 L1252.2 905.8 L1252.5 924.3 L1252.8 915.4 L1253.0 909.5 L1253.2 925.7 L1253.5 925.9 L1253.8 922.6 L1254.0 922.7 L1254.2 928.7 L1254.5 925.3 L1254.8 878.9 L1255.0 849.7 L1255.2 829.1 L1255.5 788.2 L1255.8 754.2 L1256.0 717.3 L1256.2 683.7 L1256.5 649.1 L1256.8 675.1 L1257.0 692.6 L1257.2 708.2 L1257.5 719.9 L1257.8 731.3 L1258.0 738.4 L1258.2 748.5 L1258.5 762.4 L1258.8 770.7 L1259.0 781.6 L1259.2 792.1 L1259.5 800.9 L1259.8 807.7 L1260.0 800.2 L1260.2 832.0 L1260.5 833.6 L1260.8 830.8 L1261.0 841.1 L1261.2 840.9 L1261.5 861.2 L1261.8 874.5 L1262.0 862.2 L1262.2 860.4 L1262.5 882.3 L1262.8 886.3 L1263.0 875.0 L1263.2 885.4 L1263.5 871.4 L1263.8 886.1 L1264.0 872.9 L1264.2 883.1 L1264.5 883.8 L1264.8 883.4 L1265.0 890.6 L1265.2 898.1 L1265.5 890.1 L1265.8 905.7 L1266.0 892.3 L1266.2 906.4 L1266.5 910.2 L1266.8 906.9 L1267.0 910.0 L1267.2 911.5 L1267.5 923.7 L1267.8 924.1 L1268.0 916.3 L1268.2 911.6 L1268.5 911.8 L1268.8 897.6 L1269.0 906.6 L1269.2 892.4 L1269.5 894.9 L1269.8 902.3 L1270.0 908.8 L1270.2 907.7 L1270.5 914.2 L1270.8 914.4 L1271.0 924.0 L1271.2 917.8 L1271.5 912.6 L1271.8 923.5 L1272.0 896.4 L1272.2 877.0 L1272.5 841.7 L1272.8 846.1 L1273.0 801.3 L1273.2 776.9 L1273.5 748.5 L1273.8 716.7 L1274.0 732.4 L1274.2 743.6 L1274.5 756.3 L1274.8 766.6 L1275.0 780.5 L1275.2 794.6 L1275.5 806.4 L1275.8 813.1 L1276.0 834.0 L1276.2 831.7 L1276.5 826.7 L1276.8 854.7 L1277.0 854.7 L1277.2 857.2 L1277.5 857.2 L1277.8 867.3 L1278.0 861.2 L1278.2 843.1 L1278.5 849.6 L1278.8 859.2 L1279.0 844.4 L1279.2 851.8 L1279.5 844.6 L1279.8 874.0 L1280.0 867.8 L1280.2 867.0 L1280.5 887.0 L1280.8 889.8 L1281.0 885.6 L1281.2 893.4 L1281.5 901.6 L1281.8 900.1 L1282.0 913.6 L1282.2 914.1 L1282.5 901.0 L1282.8 916.1 L1283.0 907.8 L1283.2 910.0 L1283.5 905.8 L1283.8 907.6 L1284.0 906.7 L1284.2 893.9 L1284.5 893.5 L1284.8 902.5 L1285.0 894.4 L1285.2 874.9 L1285.5 880.3 L1285.8 892.6 L1286.0 907.5 L1286.2 905.4 L1286.5 892.9 L1286.8 900.2 L1287.0 903.3 L1287.2 920.3 L1287.5 920.6 L1287.8 917.9 L1288.0 923.6 L1288.2 916.7 L1288.5 923.9 L1288.8 915.6 L1289.0 921.1 L1289.2 924.1 L1289.5 919.7 L1289.8 922.7 L1290.0 927.0 L1290.2 931.8 L1290.5 926.0 L1290.8 911.7 L1291.0 889.0 L1291.2 851.0 L1291.5 820.1 L1291.8 793.7 L1292.0 773.1 L1292.2 751.6 L1292.5 729.2 L1292.8 749.2 L1293.0 767.6 L1293.2 784.0 L1293.5 797.7 L1293.8 805.5 L1294.0 807.7 L1294.2 821.7 L1294.5 847.6 L1294.8 838.5 L1295.0 861.0 L1295.2 856.2 L1295.5 867.8 L1295.8 861.4 L1296.0 880.4 L1296.2 886.7 L1296.5 892.6 L1296.8 887.0 L1297.0 894.8 L1297.2 901.6 L1297.5 896.8 L1297.8 889.1 L1298.0 891.9 L1298.2 889.8 L1298.5 902.9 L1298.8 899.3 L1299.0 895.6 L1299.2 908.0 L1299.5 888.3 L1299.8 908.3 L1300.0 898.4 L1300.2 911.0 L1300.5 904.8 L1300.8 903.3 L1301.0 906.6 L1301.2 914.7 L1301.5 915.3 L1301.8 908.9 L1302.0 913.2 L1302.2 908.6 L1302.5 902.5 L1302.8 921.6 L1303.0 902.8 L1303.2 892.8 L1303.5 892.3 L1303.8 901.2 L1304.0 913.3 L1304.2 905.6 L1304.5 876.9 L1304.8 872.1 L1305.0 849.1 L1305.2 822.0 L1305.5 799.9 L1305.8 776.2 L1306.0 753.8 L1306.2 731.6 L1306.5 751.7 L1306.8 762.7 L1307.0 774.5 L1307.2 786.4 L1307.5 792.3 L1307.8 801.3 L1308.0 800.1 L1308.2 826.6 L1308.5 818.2 L1308.8 833.1 L1309.0 838.3 L1309.2 836.7 L1309.5 845.3 L1309.8 869.0 L1310.0 871.0 L1310.2 867.9 L1310.5 867.7 L1310.8 862.2 L1311.0 877.2 L1311.2 888.5 L1311.5 889.5 L1311.8 891.3 L1312.0 894.8 L1312.2 892.7 L1312.5 886.3 L1312.8 880.5 L1313.0 889.4 L1313.2 885.5 L1313.5 887.8 L1313.8 888.1 L1314.0 893.1 L1314.2 888.4 L1314.5 889.6 L1314.8 911.6 L1315.0 895.2" fill="none" stroke="#000" stroke-width="3.8" stroke-linejoin="round"/>
<path d="M135.6 654.1 L148.6 667.1 M135.6 667.1 L148.6 654.1" stroke="#e22b3b" stroke-width="2.6"/>
<path d="M147.4 753.9 L160.4 766.9 M147.4 766.9 L160.4 753.9" stroke="#e22b3b" stroke-width="2.6"/>
<path d="M160.3 757.3 L173.3 770.3 M160.3 770.3 L173.3 757.3" stroke="#e22b3b" stroke-width="2.6"/>
<path d="M176.2 794.5 L189.2 807.5 M176.2 807.5 L189.2 794.5" stroke="#e22b3b" stroke-width="2.6"/>
<path d="M192.1 787.7 L205.1 800.7 M192.1 800.7 L205.1 787.7" stroke="#e22b3b" stroke-width="2.6"/>
<path d="M212.7 722.4 L225.7 735.4 M212.7 735.4 L225.7 722.4" stroke="#e22b3b" stroke-width="2.6"/>
<path d="M221.2 759.0 L234.2 772.0 M221.2 772.0 L234.2 759.0" stroke="#e22b3b" stroke-width="2.6"/>
<path d="M236.0 779.3 L249.0 792.3 M236.0 792.3 L249.0 779.3" stroke="#e22b3b" stroke-width="2.6"/>
<path d="M248.2 781.0 L261.2 794.0 M248.2 794.0 L261.2 781.0" stroke="#e22b3b" stroke-width="2.6"/>
<path d="M256.3 816.5 L269.3 829.5 M256.3 829.5 L269.3 816.5" stroke="#e22b3b" stroke-width="2.6"/>
<path d="M266.5 815.8 L279.5 828.8 M266.5 828.8 L279.5 815.8" stroke="#e22b3b" stroke-width="2.6"/>
<path d="M279.4 799.5 L292.4 812.5 M279.4 812.5 L292.4 799.5" stroke="#e22b3b" stroke-width="2.6"/>
<path d="M299.0 768.5 L312.0 781.5 M299.0 781.5 L312.0 768.5" stroke="#e22b3b" stroke-width="2.6"/>
<path d="M313.2 836.8 L326.2 849.8 M313.2 849.8 L326.2 836.8" stroke="#e22b3b" stroke-width="2.6"/>
<path d="M322.7 823.2 L335.7 836.2 M322.7 836.2 L335.7 823.2" stroke="#e22b3b" stroke-width="2.6"/>
<path d="M332.1 752.2 L345.1 765.2 M332.1 765.2 L345.1 752.2" stroke="#e22b3b" stroke-width="2.6"/>
<path d="M349.7 768.1 L362.7 781.1 M349.7 781.1 L362.7 768.1" stroke="#e22b3b" stroke-width="2.6"/>
<path d="M362.6 817.5 L375.6 830.5 M362.6 830.5 L375.6 817.5" stroke="#e22b3b" stroke-width="2.6"/>
<path d="M382.5 636.5 L395.5 649.5 M382.5 649.5 L395.5 636.5" stroke="#e22b3b" stroke-width="2.6"/>
<path d="M401.1 755.6 L414.1 768.6 M401.1 768.6 L414.1 755.6" stroke="#e22b3b" stroke-width="2.6"/>
<path d="M418.1 775.2 L431.1 788.2 M418.1 788.2 L431.1 775.2" stroke="#e22b3b" stroke-width="2.6"/>
<path d="M429.5 713.3 L442.5 726.3 M429.5 726.3 L442.5 713.3" stroke="#e22b3b" stroke-width="2.6"/>
<path d="M447.3 759.6 L460.3 772.6 M447.3 772.6 L460.3 759.6" stroke="#e22b3b" stroke-width="2.6"/>
<path d="M464.2 809.0 L477.2 822.0 M464.2 822.0 L477.2 809.0" stroke="#e22b3b" stroke-width="2.6"/>
<path d="M477.1 809.0 L490.1 822.0 M477.1 822.0 L490.1 809.0" stroke="#e22b3b" stroke-width="2.6"/>
<path d="M499.1 752.2 L512.1 765.2 M499.1 765.2 L512.1 752.2" stroke="#e22b3b" stroke-width="2.6"/>
<path d="M515.0 786.7 L528.0 799.7 M515.0 799.7 L528.0 786.7" stroke="#e22b3b" stroke-width="2.6"/>
<path d="M526.8 805.7 L539.8 818.7 M526.8 818.7 L539.8 805.7" stroke="#e22b3b" stroke-width="2.6"/>
<path d="M539.3 845.2 L552.3 858.2 M539.3 858.2 L552.3 845.2" stroke="#e22b3b" stroke-width="2.6"/>
<path d="M549.8 863.2 L562.8 876.2 M549.8 876.2 L562.8 863.2" stroke="#e22b3b" stroke-width="2.6"/>
<path d="M569.1 755.6 L582.1 768.6 M569.1 768.6 L582.1 755.6" stroke="#e22b3b" stroke-width="2.6"/>
<path d="M589.4 778.6 L602.4 791.6 M589.4 791.6 L602.4 778.6" stroke="#e22b3b" stroke-width="2.6"/>
<path d="M608.0 845.2 L621.0 858.2 M608.0 858.2 L621.0 845.2" stroke="#e22b3b" stroke-width="2.6"/>
<path d="M625.9 828.3 L638.9 841.3 M625.9 841.3 L638.9 828.3" stroke="#e22b3b" stroke-width="2.6"/>
<path d="M641.9 857.7 L654.9 870.7 M641.9 870.7 L654.9 857.7" stroke="#e22b3b" stroke-width="2.6"/>
<path d="M655.4 843.5 L668.4 856.5 M655.4 856.5 L668.4 843.5" stroke="#e22b3b" stroke-width="2.6"/>
<path d="M677.4 861.1 L690.4 874.1 M677.4 874.1 L690.4 861.1" stroke="#e22b3b" stroke-width="2.6"/>
<path d="M689.2 691.3 L702.2 704.3 M689.2 704.3 L702.2 691.3" stroke="#e22b3b" stroke-width="2.6"/>
<path d="M705.1 723.5 L718.1 736.5 M705.1 736.5 L718.1 723.5" stroke="#e22b3b" stroke-width="2.6"/>
<path d="M720.6 789.4 L733.6 802.4 M720.6 802.4 L733.6 789.4" stroke="#e22b3b" stroke-width="2.6"/>
<path d="M735.8 834.1 L748.8 847.1 M735.8 847.1 L748.8 834.1" stroke="#e22b3b" stroke-width="2.6"/>
<path d="M747.6 823.9 L760.6 836.9 M747.6 836.9 L760.6 823.9" stroke="#e22b3b" stroke-width="2.6"/>
<path d="M763.9 853.0 L776.9 866.0 M763.9 866.0 L776.9 853.0" stroke="#e22b3b" stroke-width="2.6"/>
<path d="M779.1 861.1 L792.1 874.1 M779.1 874.1 L792.1 861.1" stroke="#e22b3b" stroke-width="2.6"/>
<path d="M795.0 856.4 L808.0 869.4 M795.0 869.4 L808.0 856.4" stroke="#e22b3b" stroke-width="2.6"/>
<path d="M828.8 678.5 L841.8 691.5 M828.8 691.5 L841.8 678.5" stroke="#e22b3b" stroke-width="2.6"/>
<path d="M849.8 649.0 L862.8 662.0 M849.8 662.0 L862.8 649.0" stroke="#e22b3b" stroke-width="2.6"/>
<path d="M874.5 773.2 L887.5 786.2 M874.5 786.2 L887.5 773.2" stroke="#e22b3b" stroke-width="2.6"/>
<path d="M889.0 745.4 L902.0 758.4 M889.0 758.4 L902.0 745.4" stroke="#e22b3b" stroke-width="2.6"/>
<path d="M902.6 838.5 L915.6 851.5 M902.6 851.5 L915.6 838.5" stroke="#e22b3b" stroke-width="2.6"/>
<path d="M920.2 833.4 L933.2 846.4 M920.2 846.4 L933.2 833.4" stroke="#e22b3b" stroke-width="2.6"/>
<path d="M929.6 857.7 L942.6 870.7 M929.6 870.7 L942.6 857.7" stroke="#e22b3b" stroke-width="2.6"/>
<path d="M981.0 679.5 L994.0 692.5 M981.0 692.5 L994.0 679.5" stroke="#e22b3b" stroke-width="2.6"/>
<path d="M1009.5 677.7 L1022.5 690.7 M1009.5 690.7 L1022.5 677.7" stroke="#e22b3b" stroke-width="2.6"/>
<path d="M1028.8 753.6 L1041.8 766.6 M1028.8 766.6 L1041.8 753.6" stroke="#e22b3b" stroke-width="2.6"/>
<path d="M1048.3 697.9 L1061.3 710.9 M1048.3 710.9 L1061.3 697.9" stroke="#e22b3b" stroke-width="2.6"/>
<path d="M1071.0 739.7 L1084.0 752.7 M1071.0 752.7 L1084.0 739.7" stroke="#e22b3b" stroke-width="2.6"/>
<path d="M1082.2 820.3 L1095.2 833.3 M1082.2 833.3 L1095.2 820.3" stroke="#e22b3b" stroke-width="2.6"/>
<path d="M1095.4 825.6 L1108.4 838.6 M1095.4 838.6 L1108.4 825.6" stroke="#e22b3b" stroke-width="2.6"/>
<path d="M1107.0 830.3 L1120.0 843.3 M1107.0 843.3 L1120.0 830.3" stroke="#e22b3b" stroke-width="2.6"/>
<path d="M1122.6 585.0 L1135.6 598.0 M1122.6 598.0 L1135.6 585.0" stroke="#e22b3b" stroke-width="2.6"/>
<path d="M1141.4 589.8 L1154.4 602.8 M1141.4 602.8 L1154.4 589.8" stroke="#e22b3b" stroke-width="2.6"/>
<path d="M1158.8 688.5 L1171.8 701.5 M1158.8 701.5 L1171.8 688.5" stroke="#e22b3b" stroke-width="2.6"/>
<path d="M1175.1 725.8 L1188.1 738.8 M1175.1 738.8 L1188.1 725.8" stroke="#e22b3b" stroke-width="2.6"/>
<path d="M1193.0 716.5 L1206.0 729.5 M1193.0 729.5 L1206.0 716.5" stroke="#e22b3b" stroke-width="2.6"/>
<path d="M1210.8 725.8 L1223.8 738.8 M1210.8 738.8 L1223.8 725.8" stroke="#e22b3b" stroke-width="2.6"/>
<path d="M1226.9 542.7 L1239.9 555.7 M1226.9 555.7 L1239.9 542.7" stroke="#e22b3b" stroke-width="2.6"/>
<path d="M1250.1 642.6 L1263.1 655.6 M1250.1 655.6 L1263.1 642.6" stroke="#e22b3b" stroke-width="2.6"/>
<path d="M1267.3 710.2 L1280.3 723.2 M1267.3 723.2 L1280.3 710.2" stroke="#e22b3b" stroke-width="2.6"/>
<path d="M1285.9 722.7 L1298.9 735.7 M1285.9 735.7 L1298.9 722.7" stroke="#e22b3b" stroke-width="2.6"/>
<path d="M1299.8 725.1 L1312.8 738.1 M1299.8 738.1 L1312.8 725.1" stroke="#e22b3b" stroke-width="2.6"/>
</g>
<rect x="137" y="529" width="1174" height="463.5" fill="none" stroke="#000" stroke-width="2.2"/>
<line x1="137" y1="968.3" x2="149" y2="968.3" stroke="#000" stroke-width="2"/>
<line x1="137" y1="862.7" x2="149" y2="862.7" stroke="#000" stroke-width="2"/>
<line x1="137" y1="757.1" x2="149" y2="757.1" stroke="#000" stroke-width="2"/>
<line x1="137" y1="651.5" x2="149" y2="651.5" stroke="#000" stroke-width="2"/>
<line x1="137" y1="545.9" x2="149" y2="545.9" stroke="#000" stroke-width="2"/>
<text x="124.8" y="980.5" font-size="41.5" text-anchor="end" fill="#1a1a1a">0</text>
<text x="124.8" y="873.8" font-size="41.5" text-anchor="end" fill="#1a1a1a">0.5</text>
<text x="124.8" y="770.0" font-size="41.5" text-anchor="end" fill="#1a1a1a">1.0</text>
<text x="124.8" y="666.0" font-size="41.5" text-anchor="end" fill="#1a1a1a">1.5</text>
<text x="124.8" y="559.2" font-size="41.5" text-anchor="end" fill="#1a1a1a">2.0</text>
<line x1="1299" y1="912.4" x2="1311" y2="912.4" stroke="#000" stroke-width="2"/>
<line x1="1299" y1="835.4" x2="1311" y2="835.4" stroke="#000" stroke-width="2"/>
<line x1="1299" y1="758.5" x2="1311" y2="758.5" stroke="#000" stroke-width="2"/>
<line x1="1299" y1="681.5" x2="1311" y2="681.5" stroke="#000" stroke-width="2"/>
<line x1="1299" y1="604.6" x2="1311" y2="604.6" stroke="#000" stroke-width="2"/>
<text x="1326.3" y="923.1" font-size="41.5" fill="#1a1a1a">500</text>
<text transform="translate(1327.5,846.0) scale(0.970,1)" font-size="41.5" fill="#1a1a1a">1000</text>
<text transform="translate(1327.5,769.0) scale(0.954,1)" font-size="41.5" fill="#1a1a1a">1500</text>
<text x="1326.3" y="693.0" font-size="41.5" fill="#1a1a1a">2000</text>
<text x="1326.3" y="615.9" font-size="41.5" fill="#1a1a1a">2500</text>
<text x="1326.3" y="536.6" font-size="41.5" fill="#1a1a1a">3000</text>
<line x1="243.1" y1="980" x2="243.1" y2="992" stroke="#000" stroke-width="2"/>
<line x1="457.8" y1="980" x2="457.8" y2="992" stroke="#000" stroke-width="2"/>
<line x1="672.0" y1="980" x2="672.0" y2="992" stroke="#000" stroke-width="2"/>
<line x1="887.6" y1="980" x2="887.6" y2="992" stroke="#000" stroke-width="2"/>
<line x1="1098.0" y1="980" x2="1098.0" y2="992" stroke="#000" stroke-width="2"/>
<text x="242.7" y="1033.0" font-size="41.5" text-anchor="middle" fill="#1a1a1a">0.08</text>
<text x="455.3" y="1033.0" font-size="41.5" text-anchor="middle" fill="#1a1a1a">0.09</text>
<text transform="translate(671.0,1033.0) scale(0.961,1)" font-size="41.5" text-anchor="middle" fill="#1a1a1a">0.10</text>
<text transform="translate(884.4,1033.0) scale(0.897,1)" font-size="41.5" text-anchor="middle" fill="#1a1a1a">0.11</text>
<text transform="translate(1097.6,1033.0) scale(0.959,1)" font-size="41.5" text-anchor="middle" fill="#1a1a1a">0.12</text>
<text transform="translate(1311.2,1033.0) scale(0.943,1)" font-size="41.5" text-anchor="middle" fill="#1a1a1a">0.13</text>
<text x="744.0" y="1050.5" font-size="41.5" font-style="italic" fill="#1a1a1a">t</text>
<text x="756.5" y="1050.5" font-size="41.5" fill="#1a1a1a">, c</text>
<text transform="translate(63.9,840.5) rotate(-90) skewX(-5)" font-size="41.5" font-style="italic" fill="#1a1a1a">D</text>
<text transform="translate(73.5,810.0) rotate(-90)" font-size="29.5" font-style="italic" fill="#1a1a1a">α</text>
<text transform="translate(63.9,790.5) rotate(-90)" font-size="41.5" fill="#1a1a1a">,</text>
<text transform="translate(63.9,770.0) rotate(-90)" font-size="41.5" fill="#1a1a1a">отн. ед.</text>
<g transform="translate(1413.6,806.5) rotate(-90) translate(-210.9,-542.4)"><path d="M236.2 545.6 C236.6 543.2 234.2 542.2 232.4 542.6 C229.2 543.3 227.3 546.6 226 550.5 L219.2 572.5 C217.8 577 215.3 578.8 213.3 578.3 C211.6 577.9 211.4 576.2 212.6 575.4" fill="none" stroke="#1a1a1a" stroke-width="2.8" stroke-linecap="round"/><circle cx="235.2" cy="545.3" r="1.9" fill="#1a1a1a"/><circle cx="212.8" cy="576" r="1.9" fill="#1a1a1a"/><path d="M220.6 553.4 L230.6 553.4" stroke="#1a1a1a" stroke-width="2.2"/></g>
<text transform="translate(1451.2,788.0) rotate(-90)" font-size="29.8" fill="#1a1a1a">ELM</text>
<text transform="translate(1441.8,719.5) rotate(-90)" font-size="41.5" fill="#1a1a1a">,</text>
<text transform="translate(1441.8,698.5) rotate(-90)" font-size="41.5" fill="#1a1a1a">Гц</text>
<line x1="154.2" y1="562.4" x2="208" y2="562.4" stroke="#803f99" stroke-width="3.6"/>
<path d="M236.2 545.6 C236.6 543.2 234.2 542.2 232.4 542.6 C229.2 543.3 227.3 546.6 226 550.5 L219.2 572.5 C217.8 577 215.3 578.8 213.3 578.3 C211.6 577.9 211.4 576.2 212.6 575.4" fill="none" stroke="#1a1a1a" stroke-width="2.8" stroke-linecap="round"/><circle cx="235.2" cy="545.3" r="1.9" fill="#1a1a1a"/><circle cx="212.8" cy="576" r="1.9" fill="#1a1a1a"/><path d="M220.6 553.4 L230.6 553.4" stroke="#1a1a1a" stroke-width="2.2"/>
<text transform="translate(230.5,579.6) scale(1.077,1)" font-size="29.8" fill="#1a1a1a">ELM</text>
<rect x="1028" y="541" width="272.5" height="151.2" rx="4" fill="#fff" fill-opacity="0.8" stroke="#d6d8da" stroke-width="1.3"/>
<line x1="1035" y1="560.7" x2="1088.4" y2="560.7" stroke="#000" stroke-width="3"/>
<text x="1093.5" y="570.8" font-size="33" font-style="italic" fill="#1a1a1a">D</text>
<text x="1118.0" y="577.2" font-size="24" font-style="italic" fill="#1a1a1a">α</text>
<path d="M1057.1 592.4 L1069.9 605.2 M1057.1 605.2 L1069.9 592.4" stroke="#e22b3b" stroke-width="2.6"/>
<text transform="translate(1096.3,609.4) scale(1.097,1)" font-size="31" fill="#1a1a1a">ELMs</text>
<rect x="1035" y="624.3" width="53.4" height="19" fill="#f3b8b7" stroke="#eba5aa" stroke-width="1"/>
<rect x="1035" y="660" width="53.4" height="19" fill="#94bad7" stroke="#7898b4" stroke-width="1"/>
<text transform="translate(1096.3,642.0) scale(1.125,1)" font-size="31" fill="#1a1a1a">+0.3 МВт NBI</text>
<text transform="translate(1096.3,677.0) scale(1.125,1)" font-size="31" fill="#1a1a1a">+0.5 МВт NBI</text>
</svg></body></html>
